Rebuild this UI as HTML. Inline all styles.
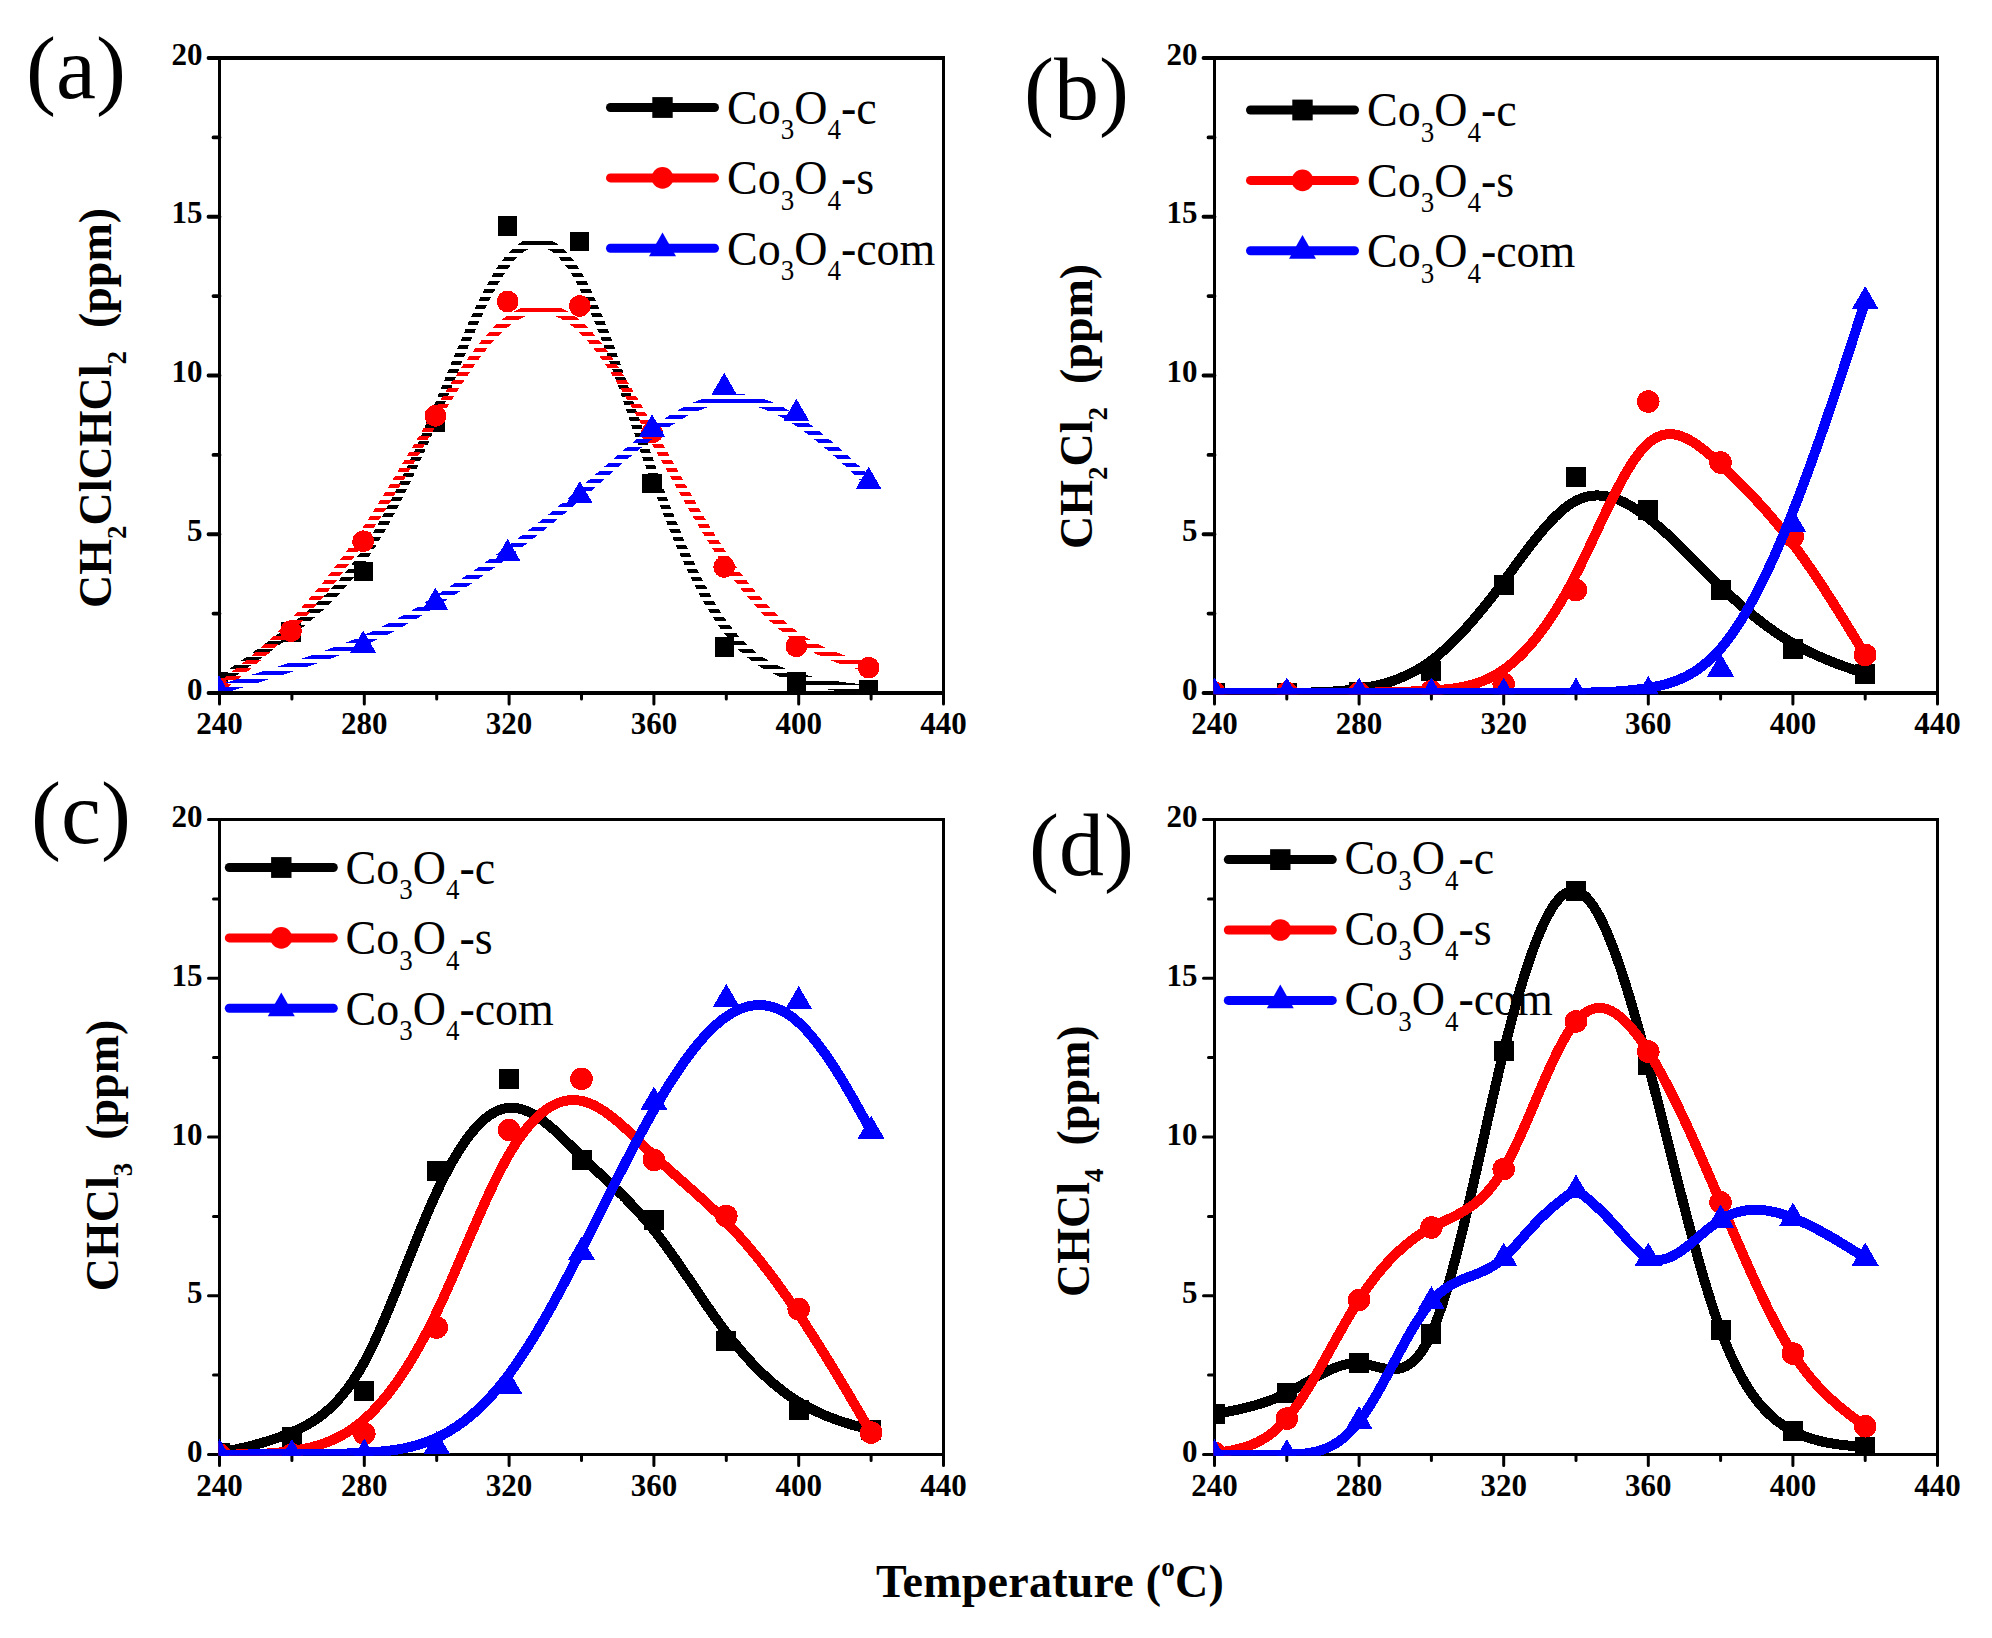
<!DOCTYPE html>
<html lang="en"><head><meta charset="utf-8"><title>Figure</title>
<style>html,body{margin:0;padding:0;background:#fff}svg{display:block}</style>
</head><body>
<svg width="1992" height="1638" viewBox="0 0 1992 1638" font-family="'Liberation Serif',serif" fill="#000">
<defs>
<pattern id="stripesk" x="0" y="1.0" width="16" height="8" patternUnits="userSpaceOnUse"><rect x="0" y="0" width="16" height="4.0" fill="#fff" shape-rendering="crispEdges"/></pattern>
<mask id="stripemaskk" maskUnits="userSpaceOnUse" x="0" y="0" width="1992" height="1638"><rect x="0" y="0" width="1992" height="1638" fill="url(#stripesk)"/></mask>
<pattern id="stripesr" x="0" y="4.0" width="16" height="8" patternUnits="userSpaceOnUse"><rect x="0" y="0" width="16" height="4.0" fill="#fff" shape-rendering="crispEdges"/></pattern>
<mask id="stripemaskr" maskUnits="userSpaceOnUse" x="0" y="0" width="1992" height="1638"><rect x="0" y="0" width="1992" height="1638" fill="url(#stripesr)"/></mask>
<pattern id="stripesb" x="0" y="7.0" width="16" height="8" patternUnits="userSpaceOnUse"><rect x="0" y="0" width="16" height="4.0" fill="#fff" shape-rendering="crispEdges"/></pattern>
<mask id="stripemaskb" maskUnits="userSpaceOnUse" x="0" y="0" width="1992" height="1638"><rect x="0" y="0" width="1992" height="1638" fill="url(#stripesb)"/></mask>
<clipPath id="clipa"><rect x="218" y="50" width="727" height="641.1"/></clipPath>
<clipPath id="clipb"><rect x="1213.3" y="56.5" width="725.7" height="637.7"/></clipPath>
<clipPath id="clipc"><rect x="218.3" y="818" width="726.7" height="637.7"/></clipPath>
<clipPath id="clipd"><rect x="1213.3" y="818" width="725.7" height="637.7"/></clipPath>
</defs>
<rect width="1992" height="1638" fill="#fff"/>
<g id="panel-a">
<path d="M218 58H945M218 693H945" stroke="#000" stroke-width="3.8" fill="none"/>
<path d="M219.5 58V693M943.5 58V693" stroke="#000" stroke-width="3.0" fill="none"/>
<path d="M219.5 693H208.5M219.5 613.62H213.5M219.5 534.25H208.5M219.5 454.88H213.5M219.5 375.5H208.5M219.5 296.12H213.5M219.5 216.75H208.5M219.5 137.38H213.5M219.5 58H208.5" stroke="#000" stroke-width="3.8" fill="none" stroke-linecap="round"/>
<path d="M219.5 693V704M291.9 693V699M364.3 693V704M436.7 693V699M509.1 693V704M581.5 693V699M653.9 693V704M726.3 693V699M798.7 693V704M871.1 693V699M943.5 693V704" stroke="#000" stroke-width="3.0" fill="none" stroke-linecap="round"/>
<g font-size="31" font-weight="bold">
<text x="219.5" y="733.5" text-anchor="middle">240</text>
<text x="364.3" y="733.5" text-anchor="middle">280</text>
<text x="509.1" y="733.5" text-anchor="middle">320</text>
<text x="653.9" y="733.5" text-anchor="middle">360</text>
<text x="798.7" y="733.5" text-anchor="middle">400</text>
<text x="943.5" y="733.5" text-anchor="middle">440</text>
<text x="202.5" y="699.5" text-anchor="end">0</text>
<text x="202.5" y="540.75" text-anchor="end">5</text>
<text x="202.5" y="382" text-anchor="end">10</text>
<text x="202.5" y="223.25" text-anchor="end">15</text>
<text x="202.5" y="64.5" text-anchor="end">20</text>
</g>
<text x="0" y="0" font-size="46" font-weight="bold" text-anchor="middle" transform="translate(111 408) rotate(-90)" xml:space="preserve"><tspan>CH</tspan><tspan font-size="27" dy="14.72">2</tspan><tspan dy="-14.72">ClCHCl</tspan><tspan font-size="27" dy="14.72">2</tspan><tspan dy="-14.72">  (ppm)</tspan></text>
<text transform="translate(26 98) scale(1 0.985)" font-size="90">(a)</text>
<g clip-path="url(#clipa)" shape-rendering="crispEdges">
<path d="M218.8 681.89L218.8 681.89L218.8 681.89L218.81 681.88L218.82 681.88L218.83 681.87L218.85 681.85L218.89 681.83L218.93 681.8L218.98 681.76L219.05 681.71L219.14 681.66L219.24 681.59L219.35 681.51L219.49 681.41L219.65 681.3L219.83 681.17L220.04 681.03L220.27 680.87L220.53 680.69L220.82 680.49L221.14 680.28L221.48 680.03L221.87 679.77L222.29 679.48L222.74 679.17L223.23 678.83L223.76 678.46L224.34 678.07L224.95 677.64L225.61 677.19L226.31 676.7L227.06 676.18L227.86 675.63L228.71 675.05L229.61 674.42L230.56 673.77L231.57 673.07L232.63 672.34L233.75 671.57L234.91 670.76L236.12 669.92L237.39 669.05L238.69 668.14L240.05 667.2L241.44 666.23L242.88 665.23L244.36 664.2L245.87 663.14L247.42 662.05L249.01 660.93L250.64 659.79L252.29 658.62L253.98 657.42L255.69 656.21L257.44 654.96L259.21 653.7L261 652.41L262.82 651.11L264.66 649.78L266.53 648.43L268.41 647.07L270.31 645.69L272.22 644.29L274.15 642.87L276.09 641.44L278.04 640L280 638.54L281.98 637.07L283.95 635.58L285.94 634.09L287.92 632.58L289.91 631.07L291.9 629.55L293.9 628.02L295.89 626.47L297.88 624.92L299.87 623.35L301.86 621.77L303.85 620.17L305.84 618.55L307.83 616.91L309.82 615.24L311.81 613.56L313.8 611.85L315.79 610.11L317.78 608.34L319.77 606.55L321.76 604.72L323.75 602.86L325.74 600.96L327.73 599.03L329.72 597.06L331.71 595.05L333.7 592.99L335.7 590.9L337.69 588.76L339.68 586.57L341.67 584.33L343.66 582.05L345.65 579.71L347.64 577.32L349.63 574.88L351.62 572.38L353.61 569.82L355.6 567.2L357.59 564.53L359.58 561.78L361.57 558.98L363.56 556.11L365.55 553.17L367.54 550.16L369.53 547.09L371.52 543.96L373.51 540.76L375.5 537.5L377.5 534.17L379.49 530.79L381.48 527.35L383.47 523.84L385.46 520.28L387.45 516.66L389.44 512.98L391.43 509.25L393.42 505.46L395.41 501.62L397.4 497.73L399.39 493.78L401.38 489.78L403.37 485.73L405.36 481.63L407.35 477.49L409.34 473.29L411.33 469.05L413.32 464.76L415.31 460.42L417.3 456.04L419.3 451.62L421.29 447.16L423.28 442.65L425.27 438.1L427.26 433.51L429.25 428.88L431.24 424.22L433.23 419.51L435.22 414.77L437.21 410L439.2 405.19L441.19 400.36L443.18 395.51L445.17 390.64L447.16 385.77L449.15 380.89L451.14 376.01L453.13 371.14L455.12 366.28L457.11 361.44L459.1 356.63L461.1 351.84L463.09 347.08L465.08 342.37L467.07 337.7L469.06 333.08L471.05 328.52L473.04 324.02L475.03 319.58L477.02 315.22L479.01 310.94L481 306.73L482.99 302.62L484.98 298.6L486.97 294.68L488.96 290.86L490.95 287.16L492.94 283.57L494.93 280.1L496.92 276.75L498.91 273.54L500.9 270.47L502.9 267.53L504.89 264.75L506.88 262.12L508.87 259.65L510.86 257.33L512.85 255.18L514.84 253.19L516.83 251.37L518.82 249.7L520.81 248.2L522.8 246.86L524.79 245.68L526.78 244.67L528.77 243.82L530.76 243.14L532.75 242.62L534.74 242.26L536.73 242.07L538.72 242.05L540.71 242.19L542.7 242.5L544.7 242.97L546.69 243.61L548.68 244.42L550.67 245.39L552.66 246.54L554.65 247.85L556.64 249.33L558.63 250.97L560.62 252.79L562.61 254.78L564.6 256.93L566.59 259.26L568.58 261.76L570.57 264.43L572.56 267.26L574.55 270.27L576.54 273.46L578.53 276.81L580.52 280.33L582.51 284.03L584.5 287.89L586.5 291.91L588.49 296.08L590.48 300.39L592.47 304.84L594.46 309.42L596.45 314.13L598.44 318.96L600.43 323.89L602.42 328.94L604.41 334.09L606.4 339.32L608.39 344.65L610.38 350.06L612.37 355.54L614.36 361.08L616.35 366.69L618.34 372.36L620.33 378.07L622.32 383.82L624.31 389.61L626.3 395.43L628.3 401.28L630.29 407.13L632.28 413L634.27 418.88L636.26 424.75L638.25 430.61L640.24 436.45L642.23 442.27L644.22 448.07L646.21 453.83L648.2 459.55L650.19 465.22L652.18 470.83L654.17 476.39L656.16 481.89L658.15 487.32L660.14 492.7L662.13 498L664.12 503.25L666.11 508.42L668.1 513.53L670.1 518.57L672.09 523.54L674.08 528.44L676.07 533.27L678.06 538.03L680.05 542.71L682.04 547.32L684.03 551.85L686.02 556.31L688.01 560.69L690 564.99L691.99 569.21L693.98 573.35L695.97 577.41L697.96 581.38L699.95 585.27L701.94 589.08L703.93 592.8L705.92 596.43L707.91 599.98L709.9 603.43L711.9 606.8L713.89 610.07L715.88 613.25L717.87 616.34L719.86 619.33L721.85 622.23L723.84 625.03L725.83 627.74L727.82 630.35L729.81 632.86L731.8 635.28L733.79 637.62L735.78 639.86L737.77 642.02L739.76 644.1L741.75 646.1L743.74 648.01L745.73 649.85L747.72 651.62L749.71 653.31L751.7 654.93L753.7 656.49L755.69 657.98L757.68 659.4L759.67 660.76L761.66 662.07L763.65 663.31L765.64 664.5L767.63 665.63L769.62 666.72L771.61 667.75L773.6 668.74L775.59 669.69L777.58 670.59L779.57 671.45L781.56 672.27L783.55 673.05L785.54 673.8L787.53 674.52L789.52 675.21L791.51 675.87L793.5 676.51L795.5 677.12L797.49 677.71L799.48 678.28L801.46 678.83L803.45 679.36L805.42 679.87L807.4 680.36L809.36 680.84L811.31 681.29L813.25 681.73L815.18 682.15L817.09 682.56L818.99 682.95L820.87 683.32L822.74 683.68L824.58 684.02L826.4 684.35L828.19 684.66L829.96 684.96L831.71 685.24L833.42 685.52L835.11 685.78L836.76 686.02L838.39 686.26L839.98 686.48L841.53 686.7L843.04 686.9L844.52 687.09L845.96 687.27L847.35 687.45L848.71 687.61L850.01 687.76L851.28 687.91L852.49 688.05L853.65 688.18L854.77 688.3L855.83 688.42L856.84 688.53L857.79 688.64L858.69 688.74L859.54 688.83L860.34 688.92L861.09 689L861.79 689.08L862.45 689.15L863.06 689.22L863.64 689.28L864.17 689.34L864.66 689.39L865.11 689.44L865.53 689.49L865.92 689.53L866.26 689.57L866.58 689.6L866.87 689.63L867.13 689.66L867.36 689.69L867.57 689.71L867.75 689.73L867.91 689.75L868.05 689.76L868.16 689.78L868.26 689.79L868.35 689.8L868.42 689.8L868.47 689.81L868.51 689.82L868.55 689.82L868.57 689.82L868.58 689.82L868.59 689.82L868.6 689.82L868.6 689.82L868.6 689.83" fill="none" stroke="#000000" stroke-width="9.55" stroke-linejoin="round" stroke-linecap="butt" mask="url(#stripemaskk)"/>
<rect x="209.25" y="672.34" width="19.1" height="19.1" fill="#000000"/>
<rect x="281.45" y="622.49" width="19.1" height="19.1" fill="#000000"/>
<rect x="353.65" y="561.85" width="19.1" height="19.1" fill="#000000"/>
<rect x="425.85" y="412.62" width="19.1" height="19.1" fill="#000000"/>
<rect x="498.05" y="216.41" width="19.1" height="19.1" fill="#000000"/>
<rect x="570.25" y="231.65" width="19.1" height="19.1" fill="#000000"/>
<rect x="642.45" y="473.9" width="19.1" height="19.1" fill="#000000"/>
<rect x="714.65" y="637.41" width="19.1" height="19.1" fill="#000000"/>
<rect x="786.85" y="672.34" width="19.1" height="19.1" fill="#000000"/>
<rect x="859.05" y="680.28" width="19.1" height="19.1" fill="#000000"/>
<path d="M218.8 688.24L218.8 688.24L218.8 688.24L218.81 688.23L218.82 688.22L218.83 688.21L218.85 688.19L218.89 688.17L218.93 688.14L218.98 688.09L219.05 688.04L219.14 687.97L219.24 687.89L219.35 687.8L219.49 687.69L219.65 687.56L219.83 687.42L220.04 687.26L220.27 687.07L220.53 686.87L220.82 686.64L221.14 686.39L221.48 686.11L221.87 685.81L222.29 685.48L222.74 685.12L223.23 684.73L223.76 684.31L224.34 683.86L224.95 683.37L225.61 682.85L226.31 682.29L227.06 681.7L227.86 681.07L228.71 680.39L229.61 679.68L230.56 678.93L231.57 678.13L232.63 677.29L233.75 676.4L234.91 675.48L236.12 674.51L237.39 673.5L238.69 672.46L240.05 671.37L241.44 670.24L242.88 669.07L244.36 667.87L245.87 666.62L247.42 665.34L249.01 664.03L250.64 662.67L252.29 661.28L253.98 659.86L255.69 658.4L257.44 656.9L259.21 655.38L261 653.81L262.82 652.22L264.66 650.59L266.53 648.93L268.41 647.24L270.31 645.52L272.22 643.77L274.15 641.99L276.09 640.18L278.04 638.34L280 636.48L281.98 634.58L283.95 632.66L285.94 630.71L287.92 628.74L289.91 626.74L291.9 624.71L293.9 622.66L295.89 620.59L297.88 618.49L299.87 616.36L301.86 614.21L303.85 612.04L305.84 609.84L307.83 607.61L309.82 605.36L311.81 603.08L313.8 600.78L315.79 598.45L317.78 596.1L319.77 593.72L321.76 591.32L323.75 588.89L325.74 586.43L327.73 583.95L329.72 581.44L331.71 578.9L333.7 576.34L335.7 573.76L337.69 571.14L339.68 568.51L341.67 565.84L343.66 563.15L345.65 560.43L347.64 557.69L349.63 554.91L351.62 552.12L353.61 549.29L355.6 546.44L357.59 543.56L359.58 540.66L361.57 537.73L363.56 534.77L365.55 531.78L367.54 528.77L369.53 525.74L371.52 522.68L373.51 519.59L375.5 516.49L377.5 513.36L379.49 510.21L381.48 507.05L383.47 503.87L385.46 500.67L387.45 497.45L389.44 494.22L391.43 490.97L393.42 487.71L395.41 484.44L397.4 481.16L399.39 477.87L401.38 474.57L403.37 471.26L405.36 467.94L407.35 464.62L409.34 461.29L411.33 457.96L413.32 454.62L415.31 451.28L417.3 447.94L419.3 444.6L421.29 441.26L423.28 437.92L425.27 434.58L427.26 431.25L429.25 427.92L431.24 424.6L433.23 421.28L435.22 417.98L437.21 414.67L439.2 411.38L441.19 408.11L443.18 404.84L445.17 401.6L447.16 398.37L449.15 395.17L451.14 391.99L453.13 388.84L455.12 385.71L457.11 382.62L459.1 379.56L461.1 376.53L463.09 373.54L465.08 370.59L467.07 367.69L469.06 364.83L471.05 362.01L473.04 359.24L475.03 356.53L477.02 353.87L479.01 351.26L481 348.71L482.99 346.22L484.98 343.8L486.97 341.44L488.96 339.14L490.95 336.91L492.94 334.76L494.93 332.68L496.92 330.68L498.91 328.75L500.9 326.9L502.9 325.14L504.89 323.46L506.88 321.87L508.87 320.37L510.86 318.96L512.85 317.63L514.84 316.4L516.83 315.26L518.82 314.21L520.81 313.25L522.8 312.39L524.79 311.61L526.78 310.92L528.77 310.33L530.76 309.82L532.75 309.41L534.74 309.09L536.73 308.85L538.72 308.72L540.71 308.67L542.7 308.71L544.7 308.84L546.69 309.07L548.68 309.39L550.67 309.8L552.66 310.3L554.65 310.89L556.64 311.58L558.63 312.36L560.62 313.23L562.61 314.19L564.6 315.24L566.59 316.39L568.58 317.63L570.57 318.96L572.56 320.38L574.55 321.9L576.54 323.51L578.53 325.21L580.52 327L582.51 328.89L584.5 330.87L586.5 332.93L588.49 335.08L590.48 337.31L592.47 339.62L594.46 342.01L596.45 344.47L598.44 347.01L600.43 349.62L602.42 352.29L604.41 355.03L606.4 357.84L608.39 360.7L610.38 363.62L612.37 366.6L614.36 369.64L616.35 372.72L618.34 375.85L620.33 379.03L622.32 382.25L624.31 385.52L626.3 388.82L628.3 392.16L630.29 395.54L632.28 398.95L634.27 402.38L636.26 405.85L638.25 409.33L640.24 412.85L642.23 416.38L644.22 419.93L646.21 423.49L648.2 427.07L650.19 430.65L652.18 434.25L654.17 437.85L656.16 441.45L658.15 445.06L660.14 448.67L662.13 452.28L664.12 455.89L666.11 459.5L668.1 463.1L670.1 466.7L672.09 470.29L674.08 473.88L676.07 477.45L678.06 481.02L680.05 484.58L682.04 488.12L684.03 491.65L686.02 495.16L688.01 498.66L690 502.14L691.99 505.6L693.98 509.03L695.97 512.45L697.96 515.85L699.95 519.21L701.94 522.56L703.93 525.87L705.92 529.16L707.91 532.42L709.9 535.65L711.9 538.84L713.89 542.01L715.88 545.13L717.87 548.22L719.86 551.27L721.85 554.29L723.84 557.26L725.83 560.19L727.82 563.08L729.81 565.93L731.8 568.74L733.79 571.5L735.78 574.23L737.77 576.91L739.76 579.54L741.75 582.14L743.74 584.69L745.73 587.21L747.72 589.67L749.71 592.1L751.7 594.48L753.7 596.82L755.69 599.12L757.68 601.38L759.67 603.59L761.66 605.76L763.65 607.89L765.64 609.97L767.63 612.01L769.62 614.01L771.61 615.96L773.6 617.87L775.59 619.74L777.58 621.56L779.57 623.34L781.56 625.08L783.55 626.77L785.54 628.42L787.53 630.03L789.52 631.59L791.51 633.11L793.5 634.58L795.5 636.01L797.49 637.39L799.48 638.74L801.46 640.03L803.45 641.29L805.42 642.51L807.4 643.68L809.36 644.81L811.31 645.91L813.25 646.97L815.18 647.99L817.09 648.97L818.99 649.92L820.87 650.83L822.74 651.7L824.58 652.55L826.4 653.36L828.19 654.14L829.96 654.88L831.71 655.6L833.42 656.29L835.11 656.94L836.76 657.57L838.39 658.17L839.98 658.75L841.53 659.3L843.04 659.82L844.52 660.32L845.96 660.79L847.35 661.25L848.71 661.68L850.01 662.09L851.28 662.47L852.49 662.84L853.65 663.19L854.77 663.52L855.83 663.84L856.84 664.13L857.79 664.41L858.69 664.68L859.54 664.93L860.34 665.17L861.09 665.39L861.79 665.59L862.45 665.79L863.06 665.97L863.64 666.14L864.17 666.29L864.66 666.44L865.11 666.57L865.53 666.7L865.92 666.81L866.26 666.91L866.58 667.01L866.87 667.09L867.13 667.17L867.36 667.24L867.57 667.3L867.75 667.35L867.91 667.4L868.05 667.44L868.16 667.47L868.26 667.5L868.35 667.53L868.42 667.55L868.47 667.56L868.51 667.57L868.55 667.58L868.57 667.59L868.58 667.6L868.59 667.6L868.6 667.6L868.6 667.6L868.6 667.6" fill="none" stroke="#ff0000" stroke-width="9.55" stroke-linejoin="round" stroke-linecap="butt" mask="url(#stripemaskr)"/>
<circle cx="218.8" cy="688.24" r="10.79" fill="#ff0000"/>
<circle cx="291" cy="631.09" r="10.79" fill="#ff0000"/>
<circle cx="363.2" cy="541.24" r="10.79" fill="#ff0000"/>
<circle cx="435.4" cy="415.82" r="10.79" fill="#ff0000"/>
<circle cx="507.6" cy="301.52" r="10.79" fill="#ff0000"/>
<circle cx="579.8" cy="305.97" r="10.79" fill="#ff0000"/>
<circle cx="652" cy="432.65" r="10.79" fill="#ff0000"/>
<circle cx="724.2" cy="566.95" r="10.79" fill="#ff0000"/>
<circle cx="796.4" cy="646.33" r="10.79" fill="#ff0000"/>
<circle cx="868.6" cy="667.6" r="10.79" fill="#ff0000"/>
<path d="M218.8 689.83L218.8 689.82L218.8 689.82L218.81 689.82L218.82 689.82L218.85 689.81L218.88 689.8L218.93 689.78L218.99 689.77L219.08 689.74L219.18 689.71L219.3 689.67L219.45 689.62L219.63 689.57L219.84 689.5L220.08 689.43L220.35 689.35L220.66 689.25L221.01 689.14L221.4 689.03L221.83 688.89L222.31 688.74L222.83 688.58L223.41 688.41L224.04 688.21L224.72 688L225.46 687.78L226.26 687.53L227.12 687.26L228.04 686.98L229.03 686.68L230.09 686.35L231.22 686L232.42 685.63L233.69 685.24L235.04 684.82L236.48 684.38L237.99 683.92L239.59 683.43L241.27 682.91L243.05 682.36L244.91 681.79L246.86 681.19L248.9 680.56L251.01 679.91L253.2 679.23L255.46 678.53L257.8 677.8L260.2 677.05L262.66 676.28L265.18 675.49L267.76 674.68L270.4 673.85L273.08 673L275.8 672.13L278.57 671.24L281.38 670.33L284.23 669.41L287.11 668.48L290.01 667.53L292.95 666.56L295.9 665.58L298.87 664.59L301.86 663.59L304.86 662.58L307.87 661.55L310.88 660.52L313.9 659.47L316.91 658.42L319.92 657.36L322.92 656.3L325.91 655.22L328.89 654.15L331.84 653.06L334.77 651.98L337.68 650.89L340.56 649.8L343.4 648.7L346.21 647.61L348.98 646.52L351.71 645.42L354.39 644.33L357.03 643.23L359.63 642.14L362.18 641.05L364.69 639.96L367.17 638.87L369.6 637.78L372 636.69L374.37 635.6L376.69 634.51L378.99 633.42L381.25 632.33L383.48 631.24L385.68 630.15L387.85 629.05L389.99 627.96L392.11 626.87L394.2 625.77L396.26 624.67L398.3 623.58L400.32 622.48L402.32 621.38L404.3 620.27L406.26 619.17L408.2 618.06L410.12 616.96L412.03 615.85L413.93 614.73L415.81 613.62L417.67 612.5L419.53 611.38L421.38 610.26L423.22 609.13L425.05 608L426.88 606.87L428.7 605.74L430.51 604.6L432.32 603.46L434.13 602.31L435.94 601.16L437.75 600.01L439.56 598.85L441.37 597.69L443.18 596.53L444.99 595.36L446.8 594.19L448.61 593.01L450.42 591.83L452.23 590.64L454.04 589.45L455.85 588.26L457.66 587.06L459.47 585.86L461.28 584.65L463.09 583.44L464.9 582.23L466.7 581.01L468.51 579.78L470.32 578.56L472.13 577.32L473.94 576.08L475.75 574.84L477.56 573.59L479.37 572.34L481.18 571.08L482.99 569.82L484.8 568.55L486.61 567.28L488.42 566L490.23 564.72L492.04 563.43L493.85 562.14L495.66 560.84L497.47 559.54L499.28 558.23L501.09 556.91L502.9 555.59L504.7 554.27L506.51 552.94L508.32 551.6L510.13 550.26L511.94 548.91L513.75 547.56L515.56 546.2L517.37 544.84L519.18 543.47L520.99 542.09L522.8 540.71L524.61 539.32L526.42 537.93L528.23 536.53L530.04 535.13L531.85 533.72L533.66 532.31L535.47 530.89L537.28 529.46L539.09 528.03L540.9 526.59L542.7 525.15L544.51 523.7L546.32 522.25L548.13 520.79L549.94 519.32L551.75 517.85L553.56 516.38L555.37 514.9L557.18 513.41L558.99 511.92L560.8 510.42L562.61 508.92L564.42 507.41L566.23 505.89L568.04 504.37L569.85 502.84L571.66 501.31L573.47 499.78L575.28 498.23L577.09 496.68L578.9 495.13L580.7 493.57L582.51 492.01L584.32 490.44L586.13 488.86L587.94 487.28L589.75 485.7L591.56 484.12L593.37 482.53L595.18 480.95L596.99 479.36L598.8 477.77L600.61 476.18L602.42 474.59L604.23 473.01L606.04 471.42L607.85 469.84L609.66 468.26L611.47 466.68L613.28 465.11L615.09 463.54L616.9 461.97L618.7 460.41L620.51 458.86L622.32 457.31L624.13 455.77L625.94 454.24L627.75 452.72L629.56 451.2L631.37 449.7L633.18 448.2L634.99 446.71L636.8 445.24L638.61 443.77L640.42 442.32L642.23 440.88L644.04 439.45L645.85 438.04L647.66 436.64L649.47 435.25L651.28 433.88L653.09 432.53L654.9 431.19L656.7 429.87L658.51 428.56L660.32 427.27L662.13 426.01L663.94 424.76L665.75 423.53L667.56 422.32L669.37 421.14L671.18 419.97L672.99 418.83L674.8 417.72L676.61 416.62L678.42 415.56L680.23 414.51L682.04 413.5L683.85 412.51L685.66 411.55L687.47 410.61L689.28 409.71L691.09 408.83L692.9 407.99L694.7 407.17L696.51 406.39L698.32 405.64L700.13 404.92L701.94 404.24L703.75 403.59L705.56 402.98L707.37 402.4L709.18 401.85L710.99 401.35L712.8 400.88L714.61 400.45L716.42 400.06L718.23 399.71L720.04 399.4L721.85 399.13L723.66 398.9L725.47 398.71L727.28 398.57L729.09 398.46L730.9 398.4L732.7 398.38L734.51 398.4L736.32 398.46L738.13 398.56L739.94 398.7L741.75 398.88L743.56 399.1L745.37 399.35L747.18 399.65L748.99 399.98L750.8 400.35L752.61 400.75L754.42 401.19L756.23 401.67L758.04 402.18L759.85 402.72L761.66 403.3L763.47 403.92L765.28 404.57L767.09 405.25L768.9 405.96L770.7 406.71L772.51 407.49L774.32 408.3L776.13 409.14L777.94 410.01L779.75 410.92L781.56 411.85L783.37 412.81L785.18 413.81L786.99 414.83L788.8 415.88L790.61 416.95L792.42 418.06L794.23 419.19L796.04 420.35L797.85 421.54L799.66 422.75L801.46 423.98L803.27 425.23L805.06 426.51L806.86 427.8L808.65 429.11L810.42 430.44L812.19 431.77L813.96 433.12L815.7 434.48L817.44 435.84L819.16 437.21L820.87 438.59L822.57 439.96L824.24 441.34L825.9 442.72L827.54 444.09L829.16 445.46L830.76 446.83L832.33 448.18L833.88 449.53L835.41 450.86L836.91 452.18L838.39 453.49L839.83 454.78L841.25 456.05L842.63 457.3L843.99 458.53L845.31 459.74L846.6 460.92L847.85 462.08L849.07 463.2L850.25 464.3L851.39 465.36L852.49 466.39L853.55 467.38L854.57 468.34L855.54 469.26L856.48 470.14L857.36 470.97L858.21 471.76L859 472.51L859.76 473.23L860.48 473.9L861.15 474.54L861.79 475.14L862.39 475.7L862.96 476.23L863.49 476.73L863.98 477.2L864.44 477.63L864.87 478.04L865.27 478.41L865.64 478.76L865.98 479.08L866.3 479.38L866.58 479.65L866.85 479.89L867.08 480.12L867.3 480.32L867.5 480.51L867.67 480.67L867.82 480.81L867.96 480.94L868.08 481.06L868.18 481.15L868.27 481.24L868.35 481.31L868.41 481.37L868.46 481.42L868.5 481.45L868.54 481.48L868.56 481.51L868.58 481.52L868.59 481.53L868.59 481.54L868.6 481.54L868.6 481.54L868.6 481.55" fill="none" stroke="#0000ff" stroke-width="9.55" stroke-linejoin="round" stroke-linecap="butt" mask="url(#stripemaskb)"/>
<polygon points="218.8,675.05 231.69,697.21 205.91,697.21" fill="#0000ff"/>
<polygon points="363.2,630.6 376.09,652.76 350.31,652.76" fill="#0000ff"/>
<polygon points="435.4,587.74 448.29,609.9 422.51,609.9" fill="#0000ff"/>
<polygon points="507.6,538.85 520.49,561 494.71,561" fill="#0000ff"/>
<polygon points="579.8,481.06 592.69,503.22 566.91,503.22" fill="#0000ff"/>
<polygon points="652,414.39 664.89,436.54 639.11,436.54" fill="#0000ff"/>
<polygon points="724.2,372.79 737.09,394.95 711.31,394.95" fill="#0000ff"/>
<polygon points="796.4,398.83 809.29,420.99 783.51,420.99" fill="#0000ff"/>
<polygon points="868.6,466.77 881.49,488.93 855.71,488.93" fill="#0000ff"/>
</g>
<line x1="610.5" y1="107.5" x2="714.5" y2="107.5" stroke="#000000" stroke-width="9" stroke-linecap="round"/>
<rect x="652.3" y="97.1" width="20.4" height="20.8" fill="#000000"/>
<text x="0" y="0" font-size="46" font-weight="normal" text-anchor="start" transform="translate(727 123.7) scale(1 1.055)" xml:space="preserve"><tspan>Co</tspan><tspan font-size="27" dy="14.72">3</tspan><tspan dy="-14.72">O</tspan><tspan font-size="27" dy="14.72">4</tspan><tspan dy="-14.72">-c</tspan></text>
<line x1="610.5" y1="177.9" x2="714.5" y2="177.9" stroke="#ff0000" stroke-width="9" stroke-linecap="round"/>
<circle cx="662.5" cy="177.9" r="10.8" fill="#ff0000"/>
<text x="0" y="0" font-size="46" font-weight="normal" text-anchor="start" transform="translate(727 194.1) scale(1 1.055)" xml:space="preserve"><tspan>Co</tspan><tspan font-size="27" dy="14.72">3</tspan><tspan dy="-14.72">O</tspan><tspan font-size="27" dy="14.72">4</tspan><tspan dy="-14.72">-s</tspan></text>
<line x1="610.5" y1="248.3" x2="714.5" y2="248.3" stroke="#0000ff" stroke-width="9" stroke-linecap="round"/>
<polygon points="662.5,232.43 676,256.23 649,256.23" fill="#0000ff"/>
<text x="0" y="0" font-size="46" font-weight="normal" text-anchor="start" transform="translate(727 264.5) scale(1 1.055)" xml:space="preserve"><tspan>Co</tspan><tspan font-size="27" dy="14.72">3</tspan><tspan dy="-14.72">O</tspan><tspan font-size="27" dy="14.72">4</tspan><tspan dy="-14.72">-com</tspan></text>
</g>
<g id="panel-b">
<path d="M1213 58H1939M1213 693H1939" stroke="#000" stroke-width="3.8" fill="none"/>
<path d="M1214.5 58V693M1937.5 58V693" stroke="#000" stroke-width="3.0" fill="none"/>
<path d="M1214.5 693H1203.5M1214.5 613.62H1208.5M1214.5 534.25H1203.5M1214.5 454.88H1208.5M1214.5 375.5H1203.5M1214.5 296.12H1208.5M1214.5 216.75H1203.5M1214.5 137.38H1208.5M1214.5 58H1203.5" stroke="#000" stroke-width="3.8" fill="none" stroke-linecap="round"/>
<path d="M1214.5 693V704M1286.8 693V699M1359.1 693V704M1431.4 693V699M1503.7 693V704M1576 693V699M1648.3 693V704M1720.6 693V699M1792.9 693V704M1865.2 693V699M1937.5 693V704" stroke="#000" stroke-width="3.0" fill="none" stroke-linecap="round"/>
<g font-size="31" font-weight="bold">
<text x="1214.5" y="733.5" text-anchor="middle">240</text>
<text x="1359.1" y="733.5" text-anchor="middle">280</text>
<text x="1503.7" y="733.5" text-anchor="middle">320</text>
<text x="1648.3" y="733.5" text-anchor="middle">360</text>
<text x="1792.9" y="733.5" text-anchor="middle">400</text>
<text x="1937.5" y="733.5" text-anchor="middle">440</text>
<text x="1197.5" y="699.5" text-anchor="end">0</text>
<text x="1197.5" y="540.75" text-anchor="end">5</text>
<text x="1197.5" y="382" text-anchor="end">10</text>
<text x="1197.5" y="223.25" text-anchor="end">15</text>
<text x="1197.5" y="64.5" text-anchor="end">20</text>
</g>
<text x="0" y="0" font-size="46" font-weight="bold" text-anchor="middle" transform="translate(1092 406.4) rotate(-90)" xml:space="preserve"><tspan>CH</tspan><tspan font-size="27" dy="14.72">2</tspan><tspan dy="-14.72">Cl</tspan><tspan font-size="27" dy="14.72">2</tspan><tspan dy="-14.72">  (ppm)</tspan></text>
<text transform="translate(1024 119) scale(1 0.985)" font-size="90">(b)</text>
<g clip-path="url(#clipb)" shape-rendering="crispEdges">
<path d="M1214.5 693L1214.5 693L1214.5 693L1214.51 693L1214.52 693L1214.53 693L1214.55 693L1214.59 693L1214.63 693L1214.68 693L1214.75 693L1214.84 693L1214.94 693L1215.05 693L1215.19 693L1215.35 693L1215.53 693L1215.74 693L1215.97 693L1216.23 693L1216.52 693L1216.84 693L1217.19 693L1217.57 693L1217.99 693L1218.45 693L1218.94 693L1219.47 693L1220.04 693L1220.66 693L1221.32 693L1222.02 693L1222.77 693L1223.57 693L1224.42 693L1225.33 693L1226.28 693L1227.29 693L1228.35 693L1229.47 693L1230.63 693L1231.85 693L1233.11 693L1234.42 693L1235.78 693L1237.17 693L1238.61 693L1240.09 693L1241.61 692.99L1243.16 692.99L1244.76 692.99L1246.38 692.99L1248.04 692.99L1249.73 692.98L1251.45 692.98L1253.19 692.98L1254.96 692.97L1256.76 692.97L1258.58 692.97L1260.43 692.96L1262.29 692.96L1264.18 692.95L1266.08 692.94L1267.99 692.94L1269.92 692.93L1271.87 692.92L1273.82 692.91L1275.79 692.9L1277.76 692.89L1279.74 692.88L1281.73 692.87L1283.72 692.86L1285.71 692.85L1287.71 692.84L1289.7 692.82L1291.69 692.81L1293.69 692.79L1295.68 692.77L1297.67 692.75L1299.67 692.72L1301.66 692.7L1303.65 692.66L1305.65 692.63L1307.64 692.59L1309.63 692.55L1311.62 692.5L1313.62 692.44L1315.61 692.38L1317.6 692.31L1319.6 692.24L1321.59 692.15L1323.58 692.06L1325.58 691.97L1327.57 691.86L1329.56 691.75L1331.56 691.62L1333.55 691.49L1335.54 691.35L1337.54 691.19L1339.53 691.03L1341.52 690.85L1343.52 690.67L1345.51 690.47L1347.5 690.26L1349.5 690.03L1351.49 689.8L1353.48 689.55L1355.48 689.28L1357.47 689.01L1359.46 688.71L1361.46 688.4L1363.45 688.08L1365.44 687.74L1367.44 687.38L1369.43 687L1371.42 686.6L1373.42 686.18L1375.41 685.74L1377.4 685.28L1379.39 684.79L1381.39 684.28L1383.38 683.74L1385.37 683.18L1387.37 682.58L1389.36 681.96L1391.35 681.31L1393.35 680.63L1395.34 679.92L1397.33 679.17L1399.33 678.39L1401.32 677.58L1403.31 676.73L1405.31 675.84L1407.3 674.92L1409.29 673.96L1411.29 672.96L1413.28 671.92L1415.27 670.84L1417.27 669.72L1419.26 668.55L1421.25 667.34L1423.25 666.08L1425.24 664.78L1427.23 663.43L1429.23 662.04L1431.22 660.59L1433.21 659.09L1435.21 657.55L1437.2 655.96L1439.19 654.32L1441.18 652.63L1443.18 650.9L1445.17 649.12L1447.16 647.31L1449.16 645.44L1451.15 643.54L1453.14 641.6L1455.14 639.61L1457.13 637.59L1459.12 635.53L1461.12 633.43L1463.11 631.3L1465.1 629.13L1467.1 626.92L1469.09 624.69L1471.08 622.42L1473.08 620.12L1475.07 617.79L1477.06 615.43L1479.06 613.04L1481.05 610.62L1483.04 608.18L1485.04 605.71L1487.03 603.21L1489.02 600.7L1491.02 598.15L1493.01 595.59L1495 593.01L1497 590.4L1498.99 587.78L1500.98 585.14L1502.98 582.48L1504.97 579.8L1506.96 577.11L1508.95 574.41L1510.95 571.7L1512.94 568.99L1514.93 566.28L1516.93 563.57L1518.92 560.86L1520.91 558.17L1522.91 555.49L1524.9 552.83L1526.89 550.18L1528.89 547.56L1530.88 544.97L1532.87 542.4L1534.87 539.87L1536.86 537.38L1538.85 534.93L1540.85 532.51L1542.84 530.15L1544.83 527.84L1546.83 525.58L1548.82 523.38L1550.81 521.24L1552.81 519.16L1554.8 517.15L1556.79 515.21L1558.79 513.34L1560.78 511.55L1562.77 509.84L1564.77 508.22L1566.76 506.69L1568.75 505.24L1570.75 503.89L1572.74 502.64L1574.73 501.49L1576.72 500.44L1578.72 499.5L1580.71 498.66L1582.7 497.92L1584.7 497.29L1586.69 496.75L1588.68 496.31L1590.68 495.96L1592.67 495.71L1594.66 495.54L1596.66 495.47L1598.65 495.48L1600.64 495.57L1602.64 495.75L1604.63 496.01L1606.62 496.35L1608.62 496.76L1610.61 497.25L1612.6 497.81L1614.6 498.44L1616.59 499.15L1618.58 499.91L1620.58 500.75L1622.57 501.64L1624.56 502.6L1626.56 503.62L1628.55 504.69L1630.54 505.82L1632.54 507L1634.53 508.24L1636.52 509.52L1638.52 510.85L1640.51 512.23L1642.5 513.64L1644.49 515.11L1646.49 516.61L1648.48 518.15L1650.47 519.72L1652.47 521.33L1654.46 522.97L1656.45 524.65L1658.45 526.35L1660.44 528.08L1662.43 529.84L1664.43 531.63L1666.42 533.43L1668.41 535.27L1670.41 537.12L1672.4 538.99L1674.39 540.89L1676.39 542.8L1678.38 544.72L1680.37 546.66L1682.37 548.61L1684.36 550.58L1686.35 552.55L1688.35 554.53L1690.34 556.52L1692.33 558.52L1694.33 560.52L1696.32 562.52L1698.31 564.52L1700.31 566.53L1702.3 568.53L1704.29 570.53L1706.28 572.52L1708.28 574.51L1710.27 576.49L1712.26 578.46L1714.26 580.43L1716.25 582.38L1718.24 584.31L1720.24 586.24L1722.23 588.14L1724.22 590.03L1726.22 591.91L1728.21 593.77L1730.2 595.61L1732.2 597.43L1734.19 599.23L1736.18 601.02L1738.18 602.79L1740.17 604.54L1742.16 606.27L1744.16 607.99L1746.15 609.68L1748.14 611.35L1750.14 613.01L1752.13 614.64L1754.12 616.25L1756.12 617.85L1758.11 619.42L1760.1 620.97L1762.1 622.5L1764.09 624L1766.08 625.49L1768.08 626.95L1770.07 628.39L1772.06 629.81L1774.05 631.21L1776.05 632.58L1778.04 633.93L1780.03 635.25L1782.03 636.55L1784.02 637.83L1786.01 639.08L1788.01 640.3L1790 641.5L1791.99 642.68L1793.99 643.83L1795.98 644.95L1797.97 646.05L1799.96 647.13L1801.94 648.17L1803.91 649.2L1805.88 650.2L1807.83 651.17L1809.78 652.12L1811.71 653.04L1813.62 653.95L1815.52 654.82L1817.41 655.68L1819.27 656.51L1821.12 657.32L1822.94 658.1L1824.74 658.86L1826.51 659.6L1828.25 660.32L1829.97 661.01L1831.66 661.68L1833.32 662.33L1834.94 662.96L1836.54 663.57L1838.09 664.16L1839.61 664.72L1841.09 665.26L1842.53 665.79L1843.92 666.29L1845.28 666.77L1846.59 667.24L1847.85 667.68L1849.07 668.1L1850.23 668.5L1851.35 668.89L1852.41 669.25L1853.42 669.6L1854.37 669.92L1855.28 670.23L1856.13 670.52L1856.93 670.8L1857.68 671.06L1858.38 671.3L1859.04 671.52L1859.66 671.73L1860.23 671.93L1860.76 672.11L1861.25 672.28L1861.71 672.44L1862.13 672.58L1862.51 672.71L1862.86 672.83L1863.18 672.94L1863.47 673.04L1863.73 673.13L1863.96 673.21L1864.17 673.28L1864.35 673.34L1864.51 673.4L1864.65 673.44L1864.76 673.48L1864.86 673.52L1864.95 673.55L1865.02 673.57L1865.07 673.59L1865.11 673.6L1865.15 673.61L1865.17 673.62L1865.18 673.63L1865.19 673.63L1865.2 673.63L1865.2 673.63L1865.2 673.63" fill="none" stroke="#000000" stroke-width="10" stroke-linejoin="round" stroke-linecap="butt"/>
<rect x="1204.5" y="683" width="20" height="20" fill="#000000"/>
<rect x="1276.8" y="683" width="20" height="20" fill="#000000"/>
<rect x="1349.1" y="682.05" width="20" height="20" fill="#000000"/>
<rect x="1421.4" y="661.41" width="20" height="20" fill="#000000"/>
<rect x="1493.7" y="575.05" width="20" height="20" fill="#000000"/>
<rect x="1566" y="467.42" width="20" height="20" fill="#000000"/>
<rect x="1638.3" y="500.12" width="20" height="20" fill="#000000"/>
<rect x="1710.6" y="580.13" width="20" height="20" fill="#000000"/>
<rect x="1782.9" y="638.87" width="20" height="20" fill="#000000"/>
<rect x="1855.2" y="663.63" width="20" height="20" fill="#000000"/>
<path d="M1214.5 693L1214.5 693L1214.5 693L1214.51 693L1214.52 693L1214.53 693L1214.55 693L1214.59 693L1214.63 693L1214.68 693L1214.75 693L1214.84 693L1214.94 693L1215.05 693L1215.19 693L1215.35 693L1215.53 693L1215.74 693L1215.97 693L1216.23 693L1216.52 693L1216.84 693L1217.19 693L1217.57 693L1217.99 693L1218.45 693L1218.94 693L1219.47 693L1220.04 693L1220.66 693L1221.32 693L1222.02 693L1222.77 693L1223.57 693L1224.42 693L1225.33 693L1226.28 693L1227.29 693L1228.35 693L1229.47 693L1230.63 693L1231.85 693L1233.11 693L1234.42 693L1235.78 693L1237.17 693L1238.61 693L1240.09 693L1241.61 693L1243.16 693L1244.76 693L1246.38 693L1248.04 693L1249.73 693L1251.45 693L1253.19 693L1254.96 693L1256.76 693L1258.58 693L1260.43 693L1262.29 693L1264.18 693L1266.08 693L1267.99 693L1269.92 693L1271.87 693L1273.82 693L1275.79 693L1277.76 693L1279.74 693L1281.73 693L1283.72 693L1285.71 693L1287.71 693L1289.7 693L1291.69 693L1293.69 693L1295.68 693L1297.67 693L1299.67 693L1301.66 693L1303.65 693L1305.65 693L1307.64 692.99L1309.63 692.99L1311.62 692.99L1313.62 692.99L1315.61 692.98L1317.6 692.98L1319.6 692.98L1321.59 692.97L1323.58 692.97L1325.58 692.96L1327.57 692.95L1329.56 692.95L1331.56 692.94L1333.55 692.93L1335.54 692.92L1337.54 692.91L1339.53 692.9L1341.52 692.89L1343.52 692.87L1345.51 692.86L1347.5 692.84L1349.5 692.83L1351.49 692.81L1353.48 692.79L1355.48 692.77L1357.47 692.75L1359.46 692.73L1361.46 692.71L1363.45 692.68L1365.44 692.66L1367.44 692.63L1369.43 692.6L1371.42 692.57L1373.42 692.54L1375.41 692.51L1377.4 692.47L1379.39 692.43L1381.39 692.4L1383.38 692.35L1385.37 692.31L1387.37 692.26L1389.36 692.21L1391.35 692.16L1393.35 692.11L1395.34 692.05L1397.33 691.99L1399.33 691.93L1401.32 691.86L1403.31 691.8L1405.31 691.72L1407.3 691.65L1409.29 691.57L1411.29 691.49L1413.28 691.41L1415.27 691.32L1417.27 691.22L1419.26 691.13L1421.25 691.03L1423.25 690.93L1425.24 690.82L1427.23 690.71L1429.23 690.59L1431.22 690.47L1433.21 690.35L1435.21 690.22L1437.2 690.08L1439.19 689.93L1441.18 689.77L1443.18 689.6L1445.17 689.42L1447.16 689.22L1449.16 689L1451.15 688.76L1453.14 688.5L1455.14 688.22L1457.13 687.91L1459.12 687.57L1461.12 687.21L1463.11 686.82L1465.1 686.4L1467.1 685.94L1469.09 685.45L1471.08 684.93L1473.08 684.36L1475.07 683.76L1477.06 683.11L1479.06 682.42L1481.05 681.69L1483.04 680.91L1485.04 680.08L1487.03 679.2L1489.02 678.27L1491.02 677.29L1493.01 676.25L1495 675.15L1497 674L1498.99 672.78L1500.98 671.51L1502.98 670.17L1504.97 668.76L1506.96 667.29L1508.95 665.75L1510.95 664.15L1512.94 662.48L1514.93 660.74L1516.93 658.94L1518.92 657.07L1520.91 655.13L1522.91 653.13L1524.9 651.05L1526.89 648.91L1528.89 646.71L1530.88 644.43L1532.87 642.09L1534.87 639.67L1536.86 637.19L1538.85 634.64L1540.85 632.03L1542.84 629.34L1544.83 626.58L1546.83 623.76L1548.82 620.86L1550.81 617.9L1552.81 614.86L1554.8 611.76L1556.79 608.58L1558.79 605.34L1560.78 602.02L1562.77 598.63L1564.77 595.18L1566.76 591.65L1568.75 588.05L1570.75 584.38L1572.74 580.64L1574.73 576.83L1576.72 572.94L1578.72 568.99L1580.71 564.97L1582.7 560.9L1584.7 556.78L1586.69 552.62L1588.68 548.43L1590.68 544.21L1592.67 539.97L1594.66 535.72L1596.66 531.47L1598.65 527.22L1600.64 522.98L1602.64 518.75L1604.63 514.56L1606.62 510.39L1608.62 506.26L1610.61 502.18L1612.6 498.15L1614.6 494.18L1616.59 490.28L1618.58 486.46L1620.58 482.71L1622.57 479.06L1624.56 475.5L1626.56 472.05L1628.55 468.7L1630.54 465.48L1632.54 462.38L1634.53 459.41L1636.52 456.59L1638.52 453.91L1640.51 451.38L1642.5 449.02L1644.49 446.82L1646.49 444.8L1648.48 442.97L1650.47 441.32L1652.47 439.86L1654.46 438.57L1656.45 437.46L1658.45 436.52L1660.44 435.74L1662.43 435.13L1664.43 434.66L1666.42 434.35L1668.41 434.18L1670.41 434.15L1672.4 434.26L1674.39 434.49L1676.39 434.86L1678.38 435.34L1680.37 435.93L1682.37 436.64L1684.36 437.45L1686.35 438.36L1688.35 439.36L1690.34 440.46L1692.33 441.64L1694.33 442.9L1696.32 444.23L1698.31 445.64L1700.31 447.11L1702.3 448.64L1704.29 450.23L1706.28 451.87L1708.28 453.55L1710.27 455.27L1712.26 457.03L1714.26 458.82L1716.25 460.64L1718.24 462.47L1720.24 464.33L1722.23 466.19L1724.22 468.06L1726.22 469.95L1728.21 471.84L1730.2 473.75L1732.2 475.68L1734.19 477.61L1736.18 479.56L1738.18 481.53L1740.17 483.51L1742.16 485.5L1744.16 487.52L1746.15 489.55L1748.14 491.6L1750.14 493.67L1752.13 495.76L1754.12 497.87L1756.12 500L1758.11 502.15L1760.1 504.32L1762.1 506.52L1764.09 508.74L1766.08 510.99L1768.08 513.26L1770.07 515.55L1772.06 517.87L1774.05 520.22L1776.05 522.6L1778.04 525L1780.03 527.44L1782.03 529.9L1784.02 532.39L1786.01 534.92L1788.01 537.47L1790 540.06L1791.99 542.68L1793.99 545.33L1795.98 548.02L1797.97 550.73L1799.96 553.47L1801.94 556.23L1803.91 559.01L1805.88 561.8L1807.83 564.61L1809.78 567.42L1811.71 570.24L1813.62 573.06L1815.52 575.88L1817.41 578.69L1819.27 581.49L1821.12 584.28L1822.94 587.06L1824.74 589.81L1826.51 592.54L1828.25 595.25L1829.97 597.93L1831.66 600.57L1833.32 603.18L1834.94 605.74L1836.54 608.27L1838.09 610.75L1839.61 613.17L1841.09 615.55L1842.53 617.87L1843.92 620.12L1845.28 622.32L1846.59 624.44L1847.85 626.5L1849.07 628.48L1850.23 630.39L1851.35 632.21L1852.41 633.95L1853.42 635.6L1854.37 637.17L1855.28 638.64L1856.13 640.04L1856.93 641.35L1857.68 642.58L1858.38 643.73L1859.04 644.81L1859.66 645.82L1860.23 646.76L1860.76 647.63L1861.25 648.44L1861.71 649.18L1862.13 649.87L1862.51 650.5L1862.86 651.07L1863.18 651.59L1863.47 652.06L1863.73 652.49L1863.96 652.87L1864.17 653.21L1864.35 653.5L1864.51 653.77L1864.65 653.99L1864.76 654.19L1864.86 654.35L1864.95 654.49L1865.02 654.6L1865.07 654.69L1865.11 654.76L1865.15 654.81L1865.17 654.85L1865.18 654.87L1865.19 654.89L1865.2 654.9L1865.2 654.9L1865.2 654.9" fill="none" stroke="#ff0000" stroke-width="10" stroke-linejoin="round" stroke-linecap="butt"/>
<circle cx="1214.5" cy="693" r="11.3" fill="#ff0000"/>
<circle cx="1286.8" cy="693" r="11.3" fill="#ff0000"/>
<circle cx="1359.1" cy="693" r="11.3" fill="#ff0000"/>
<circle cx="1431.4" cy="691.41" r="11.3" fill="#ff0000"/>
<circle cx="1503.7" cy="684.11" r="11.3" fill="#ff0000"/>
<circle cx="1576" cy="590.13" r="11.3" fill="#ff0000"/>
<circle cx="1648.3" cy="401.54" r="11.3" fill="#ff0000"/>
<circle cx="1720.6" cy="462.5" r="11.3" fill="#ff0000"/>
<circle cx="1792.9" cy="536.47" r="11.3" fill="#ff0000"/>
<circle cx="1865.2" cy="654.9" r="11.3" fill="#ff0000"/>
<path d="M1214.5 693L1214.5 693L1214.5 693L1214.51 693L1214.52 693L1214.53 693L1214.55 693L1214.59 693L1214.63 693L1214.68 693L1214.75 693L1214.84 693L1214.94 693L1215.05 693L1215.19 693L1215.35 693L1215.53 693L1215.74 693L1215.97 693L1216.23 693L1216.52 693L1216.84 693L1217.19 693L1217.57 693L1217.99 693L1218.45 693L1218.94 693L1219.47 693L1220.04 693L1220.66 693L1221.32 693L1222.02 693L1222.77 693L1223.57 693L1224.42 693L1225.33 693L1226.28 693L1227.29 693L1228.35 693L1229.47 693L1230.63 693L1231.85 693L1233.11 693L1234.42 693L1235.78 693L1237.17 693L1238.61 693L1240.09 693L1241.61 693L1243.16 693L1244.76 693L1246.38 693L1248.04 693L1249.73 693L1251.45 693L1253.19 693L1254.96 693L1256.76 693L1258.58 693L1260.43 693L1262.29 693L1264.18 693L1266.08 693L1267.99 693L1269.92 693L1271.87 693L1273.82 693L1275.79 693L1277.76 693L1279.74 693L1281.73 693L1283.72 693L1285.71 693L1287.71 693L1289.7 693L1291.69 693L1293.69 693L1295.68 693L1297.67 693L1299.67 693L1301.66 693L1303.65 693L1305.65 693L1307.64 693L1309.63 693L1311.62 693L1313.62 693L1315.61 693L1317.6 693L1319.6 693L1321.59 693L1323.58 693L1325.58 693L1327.57 693L1329.56 693L1331.56 693L1333.55 693L1335.54 693L1337.54 693L1339.53 693L1341.52 693L1343.52 693L1345.51 693L1347.5 693L1349.5 693L1351.49 693L1353.48 693L1355.48 693L1357.47 693L1359.46 693L1361.46 693L1363.45 693L1365.44 693L1367.44 693L1369.43 693L1371.42 693L1373.42 693L1375.41 693L1377.4 693L1379.39 693L1381.39 693L1383.38 693L1385.37 693L1387.37 693L1389.36 693L1391.35 693L1393.35 693L1395.34 693L1397.33 693L1399.33 693L1401.32 693L1403.31 693L1405.31 693L1407.3 693L1409.29 693L1411.29 693L1413.28 693L1415.27 693L1417.27 693L1419.26 693L1421.25 693L1423.25 693L1425.24 693L1427.23 693L1429.23 693L1431.22 693L1433.21 693L1435.21 693L1437.2 693L1439.19 693L1441.18 693L1443.18 693L1445.17 693L1447.16 693L1449.16 693L1451.15 693L1453.14 693L1455.14 693L1457.13 693L1459.12 693L1461.12 693L1463.11 693L1465.1 693L1467.1 693L1469.09 693L1471.08 693L1473.08 693L1475.07 693L1477.06 693L1479.06 693L1481.05 693L1483.04 693L1485.04 693L1487.03 693L1489.02 693L1491.02 693L1493.01 693L1495 693L1497 693L1498.99 693L1500.98 693L1502.98 693L1504.97 693L1506.96 693L1508.95 693L1510.95 693L1512.94 693L1514.93 693L1516.93 693L1518.92 693L1520.91 693L1522.91 693L1524.9 692.99L1526.89 692.99L1528.89 692.99L1530.88 692.99L1532.87 692.98L1534.87 692.98L1536.86 692.97L1538.85 692.97L1540.85 692.96L1542.84 692.96L1544.83 692.95L1546.83 692.94L1548.82 692.94L1550.81 692.93L1552.81 692.92L1554.8 692.91L1556.79 692.9L1558.79 692.88L1560.78 692.87L1562.77 692.86L1564.77 692.84L1566.76 692.82L1568.75 692.81L1570.75 692.79L1572.74 692.77L1574.73 692.75L1576.72 692.73L1578.72 692.7L1580.71 692.68L1582.7 692.65L1584.7 692.62L1586.69 692.59L1588.68 692.55L1590.68 692.51L1592.67 692.47L1594.66 692.42L1596.66 692.37L1598.65 692.31L1600.64 692.24L1602.64 692.17L1604.63 692.1L1606.62 692.01L1608.62 691.92L1610.61 691.82L1612.6 691.71L1614.6 691.59L1616.59 691.47L1618.58 691.33L1620.58 691.19L1622.57 691.03L1624.56 690.87L1626.56 690.69L1628.55 690.5L1630.54 690.3L1632.54 690.09L1634.53 689.86L1636.52 689.62L1638.52 689.37L1640.51 689.1L1642.5 688.82L1644.49 688.53L1646.49 688.22L1648.48 687.89L1650.47 687.55L1652.47 687.19L1654.46 686.81L1656.45 686.4L1658.45 685.97L1660.44 685.52L1662.43 685.04L1664.43 684.52L1666.42 683.97L1668.41 683.39L1670.41 682.77L1672.4 682.11L1674.39 681.41L1676.39 680.67L1678.38 679.88L1680.37 679.04L1682.37 678.15L1684.36 677.22L1686.35 676.22L1688.35 675.17L1690.34 674.06L1692.33 672.9L1694.33 671.67L1696.32 670.37L1698.31 669.01L1700.31 667.58L1702.3 666.08L1704.29 664.5L1706.28 662.85L1708.28 661.12L1710.27 659.32L1712.26 657.43L1714.26 655.46L1716.25 653.4L1718.24 651.25L1720.24 649.02L1722.23 646.69L1724.22 644.27L1726.22 641.76L1728.21 639.16L1730.2 636.48L1732.2 633.7L1734.19 630.84L1736.18 627.89L1738.18 624.85L1740.17 621.73L1742.16 618.53L1744.16 615.24L1746.15 611.87L1748.14 608.42L1750.14 604.89L1752.13 601.28L1754.12 597.6L1756.12 593.83L1758.11 589.99L1760.1 586.07L1762.1 582.08L1764.09 578.02L1766.08 573.88L1768.08 569.67L1770.07 565.39L1772.06 561.03L1774.05 556.61L1776.05 552.12L1778.04 547.57L1780.03 542.94L1782.03 538.25L1784.02 533.5L1786.01 528.68L1788.01 523.79L1790 518.85L1791.99 513.84L1793.99 508.78L1795.98 503.66L1797.97 498.48L1799.96 493.27L1801.94 488.01L1803.91 482.72L1805.88 477.41L1807.83 472.08L1809.78 466.74L1811.71 461.39L1813.62 456.05L1815.52 450.71L1817.41 445.38L1819.27 440.07L1821.12 434.79L1822.94 429.54L1824.74 424.32L1826.51 419.16L1828.25 414.04L1829.97 408.98L1831.66 403.99L1833.32 399.06L1834.94 394.21L1836.54 389.44L1838.09 384.77L1839.61 380.19L1841.09 375.71L1842.53 371.33L1843.92 367.08L1845.28 362.94L1846.59 358.93L1847.85 355.05L1849.07 351.31L1850.23 347.72L1851.35 344.28L1852.41 341L1853.42 337.89L1854.37 334.94L1855.28 332.16L1856.13 329.53L1856.93 327.06L1857.68 324.74L1858.38 322.57L1859.04 320.53L1859.66 318.63L1860.23 316.87L1860.76 315.22L1861.25 313.7L1861.71 312.3L1862.13 311.01L1862.51 309.82L1862.86 308.74L1863.18 307.76L1863.47 306.87L1863.73 306.07L1863.96 305.35L1864.17 304.72L1864.35 304.15L1864.51 303.66L1864.65 303.24L1864.76 302.87L1864.86 302.56L1864.95 302.3L1865.02 302.09L1865.07 301.92L1865.11 301.79L1865.15 301.69L1865.17 301.62L1865.18 301.57L1865.19 301.54L1865.2 301.53L1865.2 301.52L1865.2 301.52" fill="none" stroke="#0000ff" stroke-width="10" stroke-linejoin="round" stroke-linecap="butt"/>
<polygon points="1214.5,677.53 1228,700.73 1201,700.73" fill="#0000ff"/>
<polygon points="1286.8,677.53 1300.3,700.73 1273.3,700.73" fill="#0000ff"/>
<polygon points="1359.1,677.53 1372.6,700.73 1345.6,700.73" fill="#0000ff"/>
<polygon points="1431.4,677.53 1444.9,700.73 1417.9,700.73" fill="#0000ff"/>
<polygon points="1503.7,677.53 1517.2,700.73 1490.2,700.73" fill="#0000ff"/>
<polygon points="1576,677.53 1589.5,700.73 1562.5,700.73" fill="#0000ff"/>
<polygon points="1648.3,675.95 1661.8,699.15 1634.8,699.15" fill="#0000ff"/>
<polygon points="1720.6,653.4 1734.1,676.6 1707.1,676.6" fill="#0000ff"/>
<polygon points="1792.9,509.26 1806.4,532.46 1779.4,532.46" fill="#0000ff"/>
<polygon points="1865.2,286.06 1878.7,309.26 1851.7,309.26" fill="#0000ff"/>
</g>
<line x1="1250.5" y1="110" x2="1354.5" y2="110" stroke="#000000" stroke-width="9" stroke-linecap="round"/>
<rect x="1292.3" y="99.6" width="20.4" height="20.8" fill="#000000"/>
<text x="0" y="0" font-size="46" font-weight="normal" text-anchor="start" transform="translate(1367 126.2) scale(1 1.055)" xml:space="preserve"><tspan>Co</tspan><tspan font-size="27" dy="14.72">3</tspan><tspan dy="-14.72">O</tspan><tspan font-size="27" dy="14.72">4</tspan><tspan dy="-14.72">-c</tspan></text>
<line x1="1250.5" y1="180.4" x2="1354.5" y2="180.4" stroke="#ff0000" stroke-width="9" stroke-linecap="round"/>
<circle cx="1302.5" cy="180.4" r="10.8" fill="#ff0000"/>
<text x="0" y="0" font-size="46" font-weight="normal" text-anchor="start" transform="translate(1367 196.6) scale(1 1.055)" xml:space="preserve"><tspan>Co</tspan><tspan font-size="27" dy="14.72">3</tspan><tspan dy="-14.72">O</tspan><tspan font-size="27" dy="14.72">4</tspan><tspan dy="-14.72">-s</tspan></text>
<line x1="1250.5" y1="250.8" x2="1354.5" y2="250.8" stroke="#0000ff" stroke-width="9" stroke-linecap="round"/>
<polygon points="1302.5,234.93 1316,258.73 1289,258.73" fill="#0000ff"/>
<text x="0" y="0" font-size="46" font-weight="normal" text-anchor="start" transform="translate(1367 267) scale(1 1.055)" xml:space="preserve"><tspan>Co</tspan><tspan font-size="27" dy="14.72">3</tspan><tspan dy="-14.72">O</tspan><tspan font-size="27" dy="14.72">4</tspan><tspan dy="-14.72">-com</tspan></text>
</g>
<g id="panel-c">
<path d="M218 819.5H945M218 1454.5H945" stroke="#000" stroke-width="3.0" fill="none"/>
<path d="M219.5 819.5V1454.5M943.5 819.5V1454.5" stroke="#000" stroke-width="3.0" fill="none"/>
<path d="M219.5 1454.5H208.5M219.5 1375.12H213.5M219.5 1295.75H208.5M219.5 1216.38H213.5M219.5 1137H208.5M219.5 1057.62H213.5M219.5 978.25H208.5M219.5 898.88H213.5M219.5 819.5H208.5" stroke="#000" stroke-width="3.0" fill="none" stroke-linecap="round"/>
<path d="M219.5 1454.5V1465.5M291.9 1454.5V1460.5M364.3 1454.5V1465.5M436.7 1454.5V1460.5M509.1 1454.5V1465.5M581.5 1454.5V1460.5M653.9 1454.5V1465.5M726.3 1454.5V1460.5M798.7 1454.5V1465.5M871.1 1454.5V1460.5M943.5 1454.5V1465.5" stroke="#000" stroke-width="3.0" fill="none" stroke-linecap="round"/>
<g font-size="31" font-weight="bold">
<text x="219.5" y="1496" text-anchor="middle">240</text>
<text x="364.3" y="1496" text-anchor="middle">280</text>
<text x="509.1" y="1496" text-anchor="middle">320</text>
<text x="653.9" y="1496" text-anchor="middle">360</text>
<text x="798.7" y="1496" text-anchor="middle">400</text>
<text x="943.5" y="1496" text-anchor="middle">440</text>
<text x="202.5" y="1462" text-anchor="end">0</text>
<text x="202.5" y="1303.25" text-anchor="end">5</text>
<text x="202.5" y="1144.5" text-anchor="end">10</text>
<text x="202.5" y="985.75" text-anchor="end">15</text>
<text x="202.5" y="827" text-anchor="end">20</text>
</g>
<text x="0" y="0" font-size="46" font-weight="bold" text-anchor="middle" transform="translate(117.7 1155.5) rotate(-90)" xml:space="preserve"><tspan>CHCl</tspan><tspan font-size="27" dy="14.72">3</tspan><tspan dy="-14.72">  (ppm)</tspan></text>
<text transform="translate(31 843) scale(1 0.985)" font-size="90">(c)</text>
<g clip-path="url(#clipc)" shape-rendering="crispEdges">
<path d="M219.5 1452.91L219.5 1452.91L219.5 1452.91L219.51 1452.91L219.52 1452.91L219.53 1452.91L219.55 1452.9L219.59 1452.89L219.63 1452.88L219.68 1452.87L219.75 1452.86L219.84 1452.84L219.94 1452.82L220.06 1452.79L220.19 1452.76L220.35 1452.73L220.54 1452.69L220.74 1452.65L220.97 1452.6L221.23 1452.54L221.52 1452.48L221.84 1452.41L222.19 1452.33L222.58 1452.25L223 1452.16L223.45 1452.06L223.94 1451.96L224.48 1451.84L225.05 1451.72L225.67 1451.59L226.33 1451.45L227.03 1451.29L227.79 1451.13L228.59 1450.96L229.44 1450.78L230.34 1450.58L231.3 1450.38L232.31 1450.16L233.37 1449.93L234.49 1449.69L235.66 1449.44L236.87 1449.17L238.14 1448.89L239.45 1448.59L240.8 1448.28L242.2 1447.96L243.65 1447.63L245.13 1447.27L246.65 1446.91L248.2 1446.52L249.8 1446.12L251.42 1445.71L253.08 1445.28L254.78 1444.83L256.5 1444.36L258.25 1443.88L260.02 1443.38L261.82 1442.86L263.65 1442.32L265.49 1441.77L267.36 1441.19L269.24 1440.6L271.15 1439.98L273.07 1439.35L275 1438.69L276.95 1438.02L278.91 1437.32L280.87 1436.6L282.85 1435.86L284.83 1435.1L286.82 1434.32L288.82 1433.51L290.81 1432.68L292.81 1431.83L294.8 1430.95L296.8 1430.05L298.8 1429.11L300.79 1428.14L302.79 1427.14L304.78 1426.09L306.78 1425L308.78 1423.87L310.77 1422.69L312.77 1421.45L314.76 1420.16L316.76 1418.81L318.76 1417.41L320.75 1415.93L322.75 1414.4L324.74 1412.79L326.74 1411.11L328.74 1409.35L330.73 1407.52L332.73 1405.6L334.72 1403.6L336.72 1401.51L338.72 1399.33L340.71 1397.06L342.71 1394.69L344.7 1392.22L346.7 1389.64L348.69 1386.97L350.69 1384.18L352.69 1381.28L354.68 1378.27L356.68 1375.14L358.67 1371.89L360.67 1368.52L362.67 1365.01L364.66 1361.38L366.66 1357.62L368.65 1353.74L370.65 1349.74L372.65 1345.62L374.64 1341.4L376.64 1337.08L378.63 1332.67L380.63 1328.17L382.63 1323.59L384.62 1318.94L386.62 1314.22L388.61 1309.43L390.61 1304.6L392.61 1299.71L394.6 1294.78L396.6 1289.82L398.59 1284.82L400.59 1279.81L402.59 1274.77L404.58 1269.72L406.58 1264.67L408.57 1259.63L410.57 1254.59L412.57 1249.56L414.56 1244.56L416.56 1239.58L418.55 1234.64L420.55 1229.73L422.55 1224.87L424.54 1220.07L426.54 1215.32L428.53 1210.64L430.53 1206.03L432.53 1201.5L434.52 1197.05L436.52 1192.69L438.51 1188.43L440.51 1184.26L442.51 1180.2L444.5 1176.23L446.5 1172.37L448.49 1168.61L450.49 1164.95L452.49 1161.39L454.48 1157.94L456.48 1154.6L458.47 1151.36L460.47 1148.23L462.47 1145.2L464.46 1142.29L466.46 1139.49L468.45 1136.8L470.45 1134.22L472.45 1131.75L474.44 1129.4L476.44 1127.16L478.43 1125.04L480.43 1123.04L482.43 1121.15L484.42 1119.39L486.42 1117.74L488.41 1116.21L490.41 1114.81L492.41 1113.53L494.4 1112.37L496.4 1111.33L498.39 1110.43L500.39 1109.64L502.39 1108.99L504.38 1108.46L506.38 1108.07L508.37 1107.8L510.37 1107.67L512.37 1107.66L514.36 1107.78L516.36 1108.02L518.35 1108.37L520.35 1108.84L522.35 1109.42L524.34 1110.1L526.34 1110.88L528.33 1111.76L530.33 1112.73L532.33 1113.79L534.32 1114.93L536.32 1116.16L538.31 1117.46L540.31 1118.83L542.31 1120.27L544.3 1121.77L546.3 1123.34L548.29 1124.96L550.29 1126.63L552.29 1128.34L554.28 1130.11L556.28 1131.91L558.27 1133.74L560.27 1135.61L562.27 1137.51L564.26 1139.43L566.26 1141.37L568.25 1143.32L570.25 1145.28L572.25 1147.25L574.24 1149.23L576.24 1151.2L578.23 1153.17L580.23 1155.13L582.23 1157.07L584.22 1159L586.22 1160.92L588.21 1162.82L590.21 1164.72L592.21 1166.61L594.2 1168.49L596.2 1170.36L598.19 1172.23L600.19 1174.1L602.19 1175.97L604.18 1177.84L606.18 1179.72L608.17 1181.6L610.17 1183.49L612.17 1185.39L614.16 1187.3L616.16 1189.22L618.15 1191.15L620.15 1193.1L622.15 1195.07L624.14 1197.06L626.14 1199.07L628.13 1201.1L630.13 1203.15L632.13 1205.23L634.12 1207.34L636.12 1209.48L638.11 1211.66L640.11 1213.86L642.11 1216.1L644.1 1218.37L646.1 1220.69L648.09 1223.04L650.09 1225.44L652.09 1227.88L654.08 1230.36L656.08 1232.89L658.07 1235.47L660.07 1238.08L662.07 1240.74L664.06 1243.43L666.06 1246.16L668.05 1248.92L670.05 1251.71L672.05 1254.53L674.04 1257.37L676.04 1260.23L678.03 1263.12L680.03 1266.02L682.03 1268.94L684.02 1271.87L686.02 1274.81L688.01 1277.76L690.01 1280.71L692.01 1283.67L694 1286.63L696 1289.59L697.99 1292.54L699.99 1295.49L701.99 1298.43L703.98 1301.36L705.98 1304.27L707.97 1307.17L709.97 1310.05L711.97 1312.91L713.96 1315.75L715.96 1318.56L717.95 1321.35L719.95 1324.1L721.95 1326.82L723.94 1329.51L725.94 1332.16L727.93 1334.76L729.93 1337.33L731.93 1339.86L733.92 1342.35L735.92 1344.8L737.91 1347.21L739.91 1349.58L741.91 1351.9L743.9 1354.19L745.9 1356.44L747.89 1358.65L749.89 1360.83L751.88 1362.96L753.88 1365.05L755.88 1367.11L757.87 1369.12L759.87 1371.1L761.86 1373.03L763.86 1374.93L765.86 1376.79L767.85 1378.62L769.85 1380.4L771.84 1382.15L773.84 1383.85L775.84 1385.52L777.83 1387.15L779.83 1388.75L781.82 1390.3L783.82 1391.82L785.82 1393.3L787.81 1394.74L789.81 1396.15L791.8 1397.51L793.8 1398.85L795.8 1400.14L797.79 1401.39L799.79 1402.61L801.78 1403.8L803.78 1404.94L805.77 1406.06L807.75 1407.13L809.73 1408.17L811.69 1409.18L813.65 1410.16L815.6 1411.1L817.53 1412.01L819.45 1412.89L821.36 1413.74L823.24 1414.56L825.11 1415.35L826.95 1416.12L828.78 1416.85L830.58 1417.56L832.35 1418.23L834.1 1418.89L835.82 1419.51L837.52 1420.11L839.18 1420.69L840.8 1421.24L842.4 1421.77L843.95 1422.28L845.47 1422.76L846.95 1423.23L848.4 1423.67L849.8 1424.09L851.15 1424.49L852.46 1424.87L853.73 1425.23L854.94 1425.58L856.11 1425.91L857.23 1426.22L858.29 1426.51L859.3 1426.79L860.26 1427.06L861.16 1427.31L862.01 1427.54L862.81 1427.76L863.57 1427.97L864.27 1428.17L864.93 1428.35L865.55 1428.52L866.12 1428.68L866.66 1428.82L867.15 1428.96L867.6 1429.09L868.02 1429.2L868.41 1429.31L868.76 1429.41L869.08 1429.49L869.37 1429.57L869.63 1429.65L869.86 1429.71L870.06 1429.77L870.25 1429.82L870.41 1429.86L870.54 1429.9L870.66 1429.93L870.76 1429.96L870.85 1429.98L870.92 1430L870.97 1430.02L871.01 1430.03L871.05 1430.04L871.07 1430.04L871.08 1430.05L871.09 1430.05L871.1 1430.05L871.1 1430.05L871.1 1430.05" fill="none" stroke="#000000" stroke-width="10" stroke-linejoin="round" stroke-linecap="butt"/>
<rect x="209.5" y="1442.91" width="20" height="20" fill="#000000"/>
<rect x="281.9" y="1427.36" width="20" height="20" fill="#000000"/>
<rect x="354.3" y="1381" width="20" height="20" fill="#000000"/>
<rect x="426.7" y="1160.97" width="20" height="20" fill="#000000"/>
<rect x="499.1" y="1068.9" width="20" height="20" fill="#000000"/>
<rect x="571.5" y="1149.86" width="20" height="20" fill="#000000"/>
<rect x="643.9" y="1209.87" width="20" height="20" fill="#000000"/>
<rect x="716.3" y="1331.47" width="20" height="20" fill="#000000"/>
<rect x="788.7" y="1400.05" width="20" height="20" fill="#000000"/>
<rect x="861.1" y="1420.05" width="20" height="20" fill="#000000"/>
<path d="M219.5 1454.5L219.5 1454.5L219.5 1454.5L219.51 1454.5L219.52 1454.5L219.53 1454.5L219.55 1454.5L219.59 1454.5L219.63 1454.5L219.68 1454.5L219.75 1454.5L219.84 1454.5L219.94 1454.5L220.06 1454.5L220.19 1454.5L220.35 1454.5L220.54 1454.5L220.74 1454.5L220.97 1454.5L221.23 1454.5L221.52 1454.5L221.84 1454.5L222.19 1454.5L222.58 1454.5L223 1454.5L223.45 1454.5L223.94 1454.5L224.48 1454.5L225.05 1454.5L225.67 1454.5L226.33 1454.5L227.03 1454.5L227.79 1454.5L228.59 1454.5L229.44 1454.5L230.34 1454.5L231.3 1454.5L232.31 1454.5L233.37 1454.5L234.49 1454.5L235.66 1454.5L236.87 1454.49L238.14 1454.49L239.45 1454.48L240.8 1454.47L242.2 1454.45L243.65 1454.43L245.13 1454.41L246.65 1454.38L248.2 1454.35L249.8 1454.31L251.42 1454.27L253.08 1454.22L254.78 1454.16L256.5 1454.09L258.25 1454.02L260.02 1453.94L261.82 1453.85L263.65 1453.75L265.49 1453.64L267.36 1453.52L269.24 1453.39L271.15 1453.25L273.07 1453.1L275 1452.94L276.95 1452.77L278.91 1452.58L280.87 1452.38L282.85 1452.16L284.83 1451.93L286.82 1451.69L288.82 1451.44L290.81 1451.16L292.81 1450.87L294.8 1450.57L296.8 1450.25L298.8 1449.91L300.79 1449.54L302.79 1449.16L304.78 1448.75L306.78 1448.32L308.78 1447.86L310.77 1447.38L312.77 1446.86L314.76 1446.32L316.76 1445.74L318.76 1445.13L320.75 1444.49L322.75 1443.81L324.74 1443.1L326.74 1442.35L328.74 1441.56L330.73 1440.72L332.73 1439.85L334.72 1438.93L336.72 1437.97L338.72 1436.96L340.71 1435.91L342.71 1434.8L344.7 1433.65L346.7 1432.44L348.69 1431.18L350.69 1429.87L352.69 1428.5L354.68 1427.07L356.68 1425.59L358.67 1424.05L360.67 1422.44L362.67 1420.77L364.66 1419.04L366.66 1417.25L368.65 1415.39L370.65 1413.47L372.65 1411.48L374.64 1409.42L376.64 1407.3L378.63 1405.11L380.63 1402.86L382.63 1400.55L384.62 1398.16L386.62 1395.71L388.61 1393.2L390.61 1390.62L392.61 1387.97L394.6 1385.25L396.6 1382.47L398.59 1379.63L400.59 1376.71L402.59 1373.73L404.58 1370.68L406.58 1367.56L408.57 1364.38L410.57 1361.13L412.57 1357.81L414.56 1354.42L416.56 1350.96L418.55 1347.44L420.55 1343.85L422.55 1340.19L424.54 1336.46L426.54 1332.66L428.53 1328.8L430.53 1324.86L432.53 1320.86L434.52 1316.78L436.52 1312.64L438.51 1308.43L440.51 1304.15L442.51 1299.81L444.5 1295.42L446.5 1290.98L448.49 1286.49L450.49 1281.97L452.49 1277.41L454.48 1272.81L456.48 1268.2L458.47 1263.56L460.47 1258.91L462.47 1254.24L464.46 1249.58L466.46 1244.91L468.45 1240.25L470.45 1235.59L472.45 1230.95L474.44 1226.33L476.44 1221.74L478.43 1217.18L480.43 1212.65L482.43 1208.16L484.42 1203.71L486.42 1199.32L488.41 1194.97L490.41 1190.69L492.41 1186.48L494.4 1182.33L496.4 1178.26L498.39 1174.26L500.39 1170.35L502.39 1166.53L504.38 1162.81L506.38 1159.18L508.37 1155.66L510.37 1152.25L512.37 1148.95L514.36 1145.76L516.36 1142.68L518.35 1139.71L520.35 1136.85L522.35 1134.1L524.34 1131.46L526.34 1128.93L528.33 1126.51L530.33 1124.19L532.33 1121.99L534.32 1119.89L536.32 1117.9L538.31 1116.01L540.31 1114.23L542.31 1112.56L544.3 1111L546.3 1109.54L548.29 1108.19L550.29 1106.94L552.29 1105.8L554.28 1104.76L556.28 1103.83L558.27 1103L560.27 1102.27L562.27 1101.65L564.26 1101.13L566.26 1100.72L568.25 1100.41L570.25 1100.2L572.25 1100.09L574.24 1100.08L576.24 1100.18L578.23 1100.37L580.23 1100.67L582.23 1101.07L584.22 1101.56L586.22 1102.16L588.21 1102.84L590.21 1103.62L592.21 1104.48L594.2 1105.42L596.2 1106.44L598.19 1107.54L600.19 1108.71L602.19 1109.96L604.18 1111.26L606.18 1112.63L608.17 1114.07L610.17 1115.55L612.17 1117.09L614.16 1118.68L616.16 1120.32L618.15 1122L620.15 1123.72L622.15 1125.48L624.14 1127.27L626.14 1129.09L628.13 1130.94L630.13 1132.81L632.13 1134.7L634.12 1136.61L636.12 1138.53L638.11 1140.46L640.11 1142.4L642.11 1144.34L644.1 1146.29L646.1 1148.23L648.09 1150.17L650.09 1152.09L652.09 1154.01L654.08 1155.9L656.08 1157.78L658.07 1159.65L660.07 1161.49L662.07 1163.32L664.06 1165.14L666.06 1166.95L668.05 1168.74L670.05 1170.53L672.05 1172.3L674.04 1174.07L676.04 1175.84L678.03 1177.6L680.03 1179.35L682.03 1181.11L684.02 1182.86L686.02 1184.61L688.01 1186.37L690.01 1188.13L692.01 1189.89L694 1191.66L696 1193.44L697.99 1195.23L699.99 1197.02L701.99 1198.83L703.98 1200.64L705.98 1202.48L707.97 1204.32L709.97 1206.19L711.97 1208.07L713.96 1209.96L715.96 1211.88L717.95 1213.82L719.95 1215.79L721.95 1217.77L723.94 1219.78L725.94 1221.82L727.93 1223.89L729.93 1225.98L731.93 1228.1L733.92 1230.25L735.92 1232.43L737.91 1234.63L739.91 1236.86L741.91 1239.12L743.9 1241.41L745.9 1243.72L747.89 1246.06L749.89 1248.42L751.88 1250.82L753.88 1253.23L755.88 1255.68L757.87 1258.15L759.87 1260.64L761.86 1263.17L763.86 1265.71L765.86 1268.29L767.85 1270.88L769.85 1273.51L771.84 1276.16L773.84 1278.83L775.84 1281.53L777.83 1284.25L779.83 1287L781.82 1289.77L783.82 1292.57L785.82 1295.39L787.81 1298.23L789.81 1301.1L791.8 1303.99L793.8 1306.91L795.8 1309.85L797.79 1312.81L799.79 1315.8L801.78 1318.8L803.78 1321.83L805.77 1324.87L807.75 1327.92L809.73 1330.98L811.69 1334.05L813.65 1337.12L815.6 1340.18L817.53 1343.24L819.45 1346.3L821.36 1349.34L823.24 1352.37L825.11 1355.38L826.95 1358.38L828.78 1361.34L830.58 1364.29L832.35 1367.2L834.1 1370.07L835.82 1372.91L837.52 1375.72L839.18 1378.47L840.8 1381.18L842.4 1383.85L843.95 1386.45L845.47 1389.01L846.95 1391.5L848.4 1393.93L849.8 1396.3L851.15 1398.59L852.46 1400.82L853.73 1402.97L854.94 1405.04L856.11 1407.03L857.23 1408.93L858.29 1410.75L859.3 1412.47L860.26 1414.1L861.16 1415.64L862.01 1417.09L862.81 1418.46L863.57 1419.74L864.27 1420.95L864.93 1422.07L865.55 1423.12L866.12 1424.1L866.66 1425.01L867.15 1425.85L867.6 1426.63L868.02 1427.34L868.41 1428L868.76 1428.6L869.08 1429.14L869.37 1429.63L869.63 1430.08L869.86 1430.47L870.06 1430.83L870.25 1431.14L870.41 1431.41L870.54 1431.64L870.66 1431.85L870.76 1432.02L870.85 1432.16L870.92 1432.28L870.97 1432.37L871.01 1432.44L871.05 1432.5L871.07 1432.54L871.08 1432.56L871.09 1432.58L871.1 1432.59L871.1 1432.59L871.1 1432.59" fill="none" stroke="#ff0000" stroke-width="10" stroke-linejoin="round" stroke-linecap="butt"/>
<circle cx="219.5" cy="1454.5" r="11.3" fill="#ff0000"/>
<circle cx="291.9" cy="1454.5" r="11.3" fill="#ff0000"/>
<circle cx="364.3" cy="1433.55" r="11.3" fill="#ff0000"/>
<circle cx="436.7" cy="1327.5" r="11.3" fill="#ff0000"/>
<circle cx="509.1" cy="1130.01" r="11.3" fill="#ff0000"/>
<circle cx="581.5" cy="1078.9" r="11.3" fill="#ff0000"/>
<circle cx="653.9" cy="1159.86" r="11.3" fill="#ff0000"/>
<circle cx="726.3" cy="1216.06" r="11.3" fill="#ff0000"/>
<circle cx="798.7" cy="1309.09" r="11.3" fill="#ff0000"/>
<circle cx="871.1" cy="1432.59" r="11.3" fill="#ff0000"/>
<path d="M219.5 1454.5L219.5 1454.5L219.5 1454.5L219.51 1454.5L219.52 1454.5L219.53 1454.5L219.55 1454.5L219.59 1454.5L219.63 1454.5L219.68 1454.5L219.75 1454.5L219.84 1454.5L219.94 1454.5L220.06 1454.5L220.19 1454.5L220.35 1454.5L220.54 1454.5L220.74 1454.5L220.97 1454.5L221.23 1454.5L221.52 1454.5L221.84 1454.5L222.19 1454.5L222.58 1454.5L223 1454.5L223.45 1454.5L223.94 1454.5L224.48 1454.5L225.05 1454.5L225.67 1454.5L226.33 1454.5L227.03 1454.5L227.79 1454.5L228.59 1454.5L229.44 1454.5L230.34 1454.5L231.3 1454.5L232.31 1454.5L233.37 1454.5L234.49 1454.5L235.66 1454.5L236.87 1454.5L238.14 1454.5L239.45 1454.5L240.8 1454.5L242.2 1454.5L243.65 1454.5L245.13 1454.5L246.65 1454.5L248.2 1454.5L249.8 1454.49L251.42 1454.49L253.08 1454.49L254.78 1454.49L256.5 1454.49L258.25 1454.49L260.02 1454.48L261.82 1454.48L263.65 1454.48L265.49 1454.47L267.36 1454.47L269.24 1454.47L271.15 1454.46L273.07 1454.46L275 1454.45L276.95 1454.45L278.91 1454.44L280.87 1454.44L282.85 1454.43L284.83 1454.42L286.82 1454.41L288.82 1454.41L290.81 1454.4L292.81 1454.39L294.8 1454.38L296.8 1454.37L298.8 1454.36L300.79 1454.35L302.79 1454.34L304.78 1454.32L306.78 1454.31L308.78 1454.29L310.77 1454.27L312.77 1454.25L314.76 1454.23L316.76 1454.21L318.76 1454.18L320.75 1454.15L322.75 1454.12L324.74 1454.09L326.74 1454.06L328.74 1454.02L330.73 1453.98L332.73 1453.93L334.72 1453.89L336.72 1453.84L338.72 1453.78L340.71 1453.73L342.71 1453.67L344.7 1453.6L346.7 1453.54L348.69 1453.46L350.69 1453.39L352.69 1453.31L354.68 1453.22L356.68 1453.14L358.67 1453.04L360.67 1452.94L362.67 1452.84L364.66 1452.73L366.66 1452.62L368.65 1452.5L370.65 1452.37L372.65 1452.24L374.64 1452.1L376.64 1451.94L378.63 1451.78L380.63 1451.6L382.63 1451.41L384.62 1451.21L386.62 1450.99L388.61 1450.75L390.61 1450.5L392.61 1450.23L394.6 1449.95L396.6 1449.64L398.59 1449.31L400.59 1448.96L402.59 1448.59L404.58 1448.19L406.58 1447.77L408.57 1447.33L410.57 1446.85L412.57 1446.35L414.56 1445.82L416.56 1445.27L418.55 1444.68L420.55 1444.06L422.55 1443.41L424.54 1442.72L426.54 1442L428.53 1441.25L430.53 1440.46L432.53 1439.63L434.52 1438.77L436.52 1437.86L438.51 1436.92L440.51 1435.93L442.51 1434.91L444.5 1433.84L446.5 1432.73L448.49 1431.58L450.49 1430.39L452.49 1429.15L454.48 1427.87L456.48 1426.54L458.47 1425.18L460.47 1423.76L462.47 1422.3L464.46 1420.8L466.46 1419.24L468.45 1417.64L470.45 1416L472.45 1414.3L474.44 1412.56L476.44 1410.77L478.43 1408.93L480.43 1407.04L482.43 1405.1L484.42 1403.11L486.42 1401.07L488.41 1398.98L490.41 1396.84L492.41 1394.64L494.4 1392.39L496.4 1390.09L498.39 1387.74L500.39 1385.33L502.39 1382.87L504.38 1380.35L506.38 1377.77L508.37 1375.14L510.37 1372.46L512.37 1369.71L514.36 1366.92L516.36 1364.07L518.35 1361.17L520.35 1358.22L522.35 1355.21L524.34 1352.16L526.34 1349.07L528.33 1345.92L530.33 1342.73L532.33 1339.5L534.32 1336.23L536.32 1332.92L538.31 1329.56L540.31 1326.17L542.31 1322.74L544.3 1319.27L546.3 1315.77L548.29 1312.24L550.29 1308.67L552.29 1305.07L554.28 1301.44L556.28 1297.78L558.27 1294.1L560.27 1290.39L562.27 1286.65L564.26 1282.89L566.26 1279.11L568.25 1275.31L570.25 1271.48L572.25 1267.64L574.24 1263.78L576.24 1259.9L578.23 1256.01L580.23 1252.1L582.23 1248.18L584.22 1244.25L586.22 1240.31L588.21 1236.36L590.21 1232.4L592.21 1228.43L594.2 1224.46L596.2 1220.49L598.19 1216.52L600.19 1212.54L602.19 1208.56L604.18 1204.59L606.18 1200.62L608.17 1196.65L610.17 1192.69L612.17 1188.74L614.16 1184.79L616.16 1180.85L618.15 1176.93L620.15 1173.01L622.15 1169.11L624.14 1165.23L626.14 1161.36L628.13 1157.51L630.13 1153.68L632.13 1149.86L634.12 1146.07L636.12 1142.31L638.11 1138.56L640.11 1134.84L642.11 1131.15L644.1 1127.49L646.1 1123.86L648.09 1120.25L650.09 1116.68L652.09 1113.15L654.08 1109.64L656.08 1106.18L658.07 1102.75L660.07 1099.36L662.07 1096L664.06 1092.69L666.06 1089.43L668.05 1086.2L670.05 1083.02L672.05 1079.89L674.04 1076.8L676.04 1073.76L678.03 1070.77L680.03 1067.83L682.03 1064.94L684.02 1062.11L686.02 1059.33L688.01 1056.6L690.01 1053.93L692.01 1051.32L694 1048.77L696 1046.28L697.99 1043.85L699.99 1041.49L701.99 1039.18L703.98 1036.95L705.98 1034.77L707.97 1032.67L709.97 1030.63L711.97 1028.67L713.96 1026.78L715.96 1024.95L717.95 1023.21L719.95 1021.53L721.95 1019.94L723.94 1018.42L725.94 1016.97L727.93 1015.61L729.93 1014.33L731.93 1013.13L733.92 1012.01L735.92 1010.97L737.91 1010.02L739.91 1009.14L741.91 1008.35L743.9 1007.65L745.9 1007.02L747.89 1006.48L749.89 1006.03L751.88 1005.66L753.88 1005.38L755.88 1005.18L757.87 1005.07L759.87 1005.05L761.86 1005.12L763.86 1005.27L765.86 1005.52L767.85 1005.85L769.85 1006.27L771.84 1006.78L773.84 1007.38L775.84 1008.07L777.83 1008.86L779.83 1009.73L781.82 1010.7L783.82 1011.76L785.82 1012.92L787.81 1014.17L789.81 1015.51L791.8 1016.95L793.8 1018.48L795.8 1020.11L797.79 1021.83L799.79 1023.65L801.78 1025.57L803.78 1027.57L805.77 1029.65L807.75 1031.82L809.73 1034.05L811.69 1036.36L813.65 1038.72L815.6 1041.14L817.53 1043.61L819.45 1046.13L821.36 1048.69L823.24 1051.28L825.11 1053.9L826.95 1056.54L828.78 1059.2L830.58 1061.88L832.35 1064.56L834.1 1067.25L835.82 1069.93L837.52 1072.61L839.18 1075.27L840.8 1077.91L842.4 1080.53L843.95 1083.11L845.47 1085.66L846.95 1088.18L848.4 1090.64L849.8 1093.05L851.15 1095.41L852.46 1097.7L853.73 1099.93L854.94 1102.08L856.11 1104.16L857.23 1106.15L858.29 1108.05L859.3 1109.86L860.26 1111.57L861.16 1113.19L862.01 1114.71L862.81 1116.14L863.57 1117.49L864.27 1118.75L864.93 1119.93L865.55 1121.04L866.12 1122.06L866.66 1123.02L867.15 1123.9L867.6 1124.71L868.02 1125.46L868.41 1126.15L868.76 1126.78L869.08 1127.35L869.37 1127.86L869.63 1128.33L869.86 1128.74L870.06 1129.11L870.25 1129.44L870.41 1129.73L870.54 1129.97L870.66 1130.19L870.76 1130.37L870.85 1130.52L870.92 1130.64L870.97 1130.74L871.01 1130.81L871.05 1130.87L871.07 1130.91L871.08 1130.94L871.09 1130.96L871.1 1130.96L871.1 1130.97L871.1 1130.97" fill="none" stroke="#0000ff" stroke-width="10" stroke-linejoin="round" stroke-linecap="butt"/>
<polygon points="219.5,1439.03 233,1462.23 206,1462.23" fill="#0000ff"/>
<polygon points="291.9,1439.03 305.4,1462.23 278.4,1462.23" fill="#0000ff"/>
<polygon points="364.3,1438.4 377.8,1461.6 350.8,1461.6" fill="#0000ff"/>
<polygon points="436.7,1431.1 450.2,1454.3 423.2,1454.3" fill="#0000ff"/>
<polygon points="509.1,1371.09 522.6,1394.29 495.6,1394.29" fill="#0000ff"/>
<polygon points="581.5,1236.79 595,1259.99 568,1259.99" fill="#0000ff"/>
<polygon points="653.9,1086.61 667.4,1109.81 640.4,1109.81" fill="#0000ff"/>
<polygon points="726.3,983.74 739.8,1006.94 712.8,1006.94" fill="#0000ff"/>
<polygon points="798.7,985.96 812.2,1009.16 785.2,1009.16" fill="#0000ff"/>
<polygon points="871.1,1115.5 884.6,1138.7 857.6,1138.7" fill="#0000ff"/>
</g>
<line x1="229.3" y1="867.5" x2="333.3" y2="867.5" stroke="#000000" stroke-width="9" stroke-linecap="round"/>
<rect x="271.1" y="857.1" width="20.4" height="20.8" fill="#000000"/>
<text x="0" y="0" font-size="46" font-weight="normal" text-anchor="start" transform="translate(345.5 883.7) scale(1 1.055)" xml:space="preserve"><tspan>Co</tspan><tspan font-size="27" dy="14.72">3</tspan><tspan dy="-14.72">O</tspan><tspan font-size="27" dy="14.72">4</tspan><tspan dy="-14.72">-c</tspan></text>
<line x1="229.3" y1="937.9" x2="333.3" y2="937.9" stroke="#ff0000" stroke-width="9" stroke-linecap="round"/>
<circle cx="281.3" cy="937.9" r="10.8" fill="#ff0000"/>
<text x="0" y="0" font-size="46" font-weight="normal" text-anchor="start" transform="translate(345.5 954.1) scale(1 1.055)" xml:space="preserve"><tspan>Co</tspan><tspan font-size="27" dy="14.72">3</tspan><tspan dy="-14.72">O</tspan><tspan font-size="27" dy="14.72">4</tspan><tspan dy="-14.72">-s</tspan></text>
<line x1="229.3" y1="1008.3" x2="333.3" y2="1008.3" stroke="#0000ff" stroke-width="9" stroke-linecap="round"/>
<polygon points="281.3,992.43 294.8,1016.23 267.8,1016.23" fill="#0000ff"/>
<text x="0" y="0" font-size="46" font-weight="normal" text-anchor="start" transform="translate(345.5 1024.5) scale(1 1.055)" xml:space="preserve"><tspan>Co</tspan><tspan font-size="27" dy="14.72">3</tspan><tspan dy="-14.72">O</tspan><tspan font-size="27" dy="14.72">4</tspan><tspan dy="-14.72">-com</tspan></text>
</g>
<g id="panel-d">
<path d="M1213 819.5H1939M1213 1454.5H1939" stroke="#000" stroke-width="3.0" fill="none"/>
<path d="M1214.5 819.5V1454.5M1937.5 819.5V1454.5" stroke="#000" stroke-width="3.0" fill="none"/>
<path d="M1214.5 1454.5H1203.5M1214.5 1375.12H1208.5M1214.5 1295.75H1203.5M1214.5 1216.38H1208.5M1214.5 1137H1203.5M1214.5 1057.62H1208.5M1214.5 978.25H1203.5M1214.5 898.88H1208.5M1214.5 819.5H1203.5" stroke="#000" stroke-width="3.0" fill="none" stroke-linecap="round"/>
<path d="M1214.5 1454.5V1465.5M1286.8 1454.5V1460.5M1359.1 1454.5V1465.5M1431.4 1454.5V1460.5M1503.7 1454.5V1465.5M1576 1454.5V1460.5M1648.3 1454.5V1465.5M1720.6 1454.5V1460.5M1792.9 1454.5V1465.5M1865.2 1454.5V1460.5M1937.5 1454.5V1465.5" stroke="#000" stroke-width="3.0" fill="none" stroke-linecap="round"/>
<g font-size="31" font-weight="bold">
<text x="1214.5" y="1496" text-anchor="middle">240</text>
<text x="1359.1" y="1496" text-anchor="middle">280</text>
<text x="1503.7" y="1496" text-anchor="middle">320</text>
<text x="1648.3" y="1496" text-anchor="middle">360</text>
<text x="1792.9" y="1496" text-anchor="middle">400</text>
<text x="1937.5" y="1496" text-anchor="middle">440</text>
<text x="1197.5" y="1462" text-anchor="end">0</text>
<text x="1197.5" y="1303.25" text-anchor="end">5</text>
<text x="1197.5" y="1144.5" text-anchor="end">10</text>
<text x="1197.5" y="985.75" text-anchor="end">15</text>
<text x="1197.5" y="827" text-anchor="end">20</text>
</g>
<text x="0" y="0" font-size="46" font-weight="bold" text-anchor="middle" transform="translate(1088.7 1161.2) rotate(-90)" xml:space="preserve"><tspan>CHCl</tspan><tspan font-size="27" dy="14.72">4</tspan><tspan dy="-14.72">  (ppm)</tspan></text>
<text transform="translate(1029 875) scale(1 0.985)" font-size="90">(d)</text>
<g clip-path="url(#clipd)" shape-rendering="crispEdges">
<path d="M1214.5 1414.18L1216.13 1413.87L1217.76 1413.57L1219.39 1413.26L1221.02 1412.95L1222.65 1412.64L1224.28 1412.33L1225.92 1412.02L1227.55 1411.7L1229.18 1411.37L1230.81 1411.05L1232.44 1410.71L1234.07 1410.37L1235.7 1410.03L1237.33 1409.68L1238.96 1409.32L1240.59 1408.95L1242.22 1408.58L1243.85 1408.2L1245.49 1407.8L1247.12 1407.4L1248.75 1406.99L1250.38 1406.57L1252.01 1406.13L1253.64 1405.69L1255.27 1405.23L1256.9 1404.76L1258.53 1404.27L1260.16 1403.77L1261.79 1403.26L1263.42 1402.73L1265.06 1402.19L1266.69 1401.63L1268.32 1401.05L1269.95 1400.46L1271.58 1399.85L1273.21 1399.22L1274.84 1398.58L1276.47 1397.91L1278.1 1397.23L1279.73 1396.52L1281.36 1395.8L1282.99 1395.05L1284.63 1394.28L1286.26 1393.49L1286.8 1393.22L1287.89 1392.68L1289.52 1391.84L1291.15 1390.99L1292.78 1390.12L1294.41 1389.23L1296.04 1388.33L1297.67 1387.42L1299.3 1386.5L1300.93 1385.57L1302.56 1384.63L1304.2 1383.7L1305.83 1382.75L1307.46 1381.81L1309.09 1380.87L1310.72 1379.94L1312.35 1379.01L1313.98 1378.09L1315.61 1377.18L1317.24 1376.28L1318.87 1375.39L1320.5 1374.52L1322.13 1373.67L1323.77 1372.84L1325.4 1372.02L1327.03 1371.24L1328.66 1370.47L1330.29 1369.74L1331.92 1369.03L1333.55 1368.36L1335.18 1367.72L1336.81 1367.11L1338.44 1366.54L1340.07 1366.01L1341.7 1365.52L1343.34 1365.08L1344.97 1364.68L1346.6 1364.32L1348.23 1364.02L1349.86 1363.76L1351.49 1363.56L1353.12 1363.42L1354.75 1363.33L1356.38 1363.29L1358.01 1363.32L1359.1 1363.38L1359.64 1363.42L1361.27 1363.57L1362.91 1363.78L1364.54 1364.03L1366.17 1364.33L1367.8 1364.66L1369.43 1365.02L1371.06 1365.41L1372.69 1365.8L1374.32 1366.21L1375.95 1366.62L1377.58 1367.02L1379.21 1367.41L1380.84 1367.78L1382.48 1368.12L1384.11 1368.44L1385.74 1368.71L1387.37 1368.94L1389 1369.12L1390.63 1369.24L1392.26 1369.29L1393.89 1369.27L1395.52 1369.17L1397.15 1368.99L1398.78 1368.71L1400.41 1368.34L1402.05 1367.86L1403.68 1367.27L1405.31 1366.56L1406.94 1365.72L1408.57 1364.75L1410.2 1363.64L1411.83 1362.39L1413.46 1360.98L1415.09 1359.41L1416.72 1357.68L1418.35 1355.78L1419.98 1353.69L1421.62 1351.43L1423.25 1348.96L1424.88 1346.3L1426.51 1343.44L1428.14 1340.36L1429.77 1337.06L1431.4 1333.53L1433.03 1329.78L1434.66 1325.8L1436.29 1321.6L1437.92 1317.19L1439.55 1312.58L1441.18 1307.77L1442.82 1302.77L1444.45 1297.6L1446.08 1292.25L1447.71 1286.73L1449.34 1281.06L1450.97 1275.23L1452.6 1269.27L1454.23 1263.16L1455.86 1256.93L1457.49 1250.57L1459.12 1244.1L1460.75 1237.53L1462.39 1230.85L1464.02 1224.09L1465.65 1217.24L1467.28 1210.31L1468.91 1203.31L1470.54 1196.25L1472.17 1189.14L1473.8 1181.98L1475.43 1174.78L1477.06 1167.55L1478.69 1160.29L1480.32 1153.02L1481.96 1145.73L1483.59 1138.45L1485.22 1131.16L1486.85 1123.89L1488.48 1116.64L1490.11 1109.42L1491.74 1102.23L1493.37 1095.08L1495 1087.99L1496.63 1080.95L1498.26 1073.97L1499.89 1067.07L1501.53 1060.24L1503.16 1053.5L1503.7 1051.28L1504.79 1046.86L1506.42 1040.31L1508.05 1033.86L1509.68 1027.52L1511.31 1021.28L1512.94 1015.16L1514.57 1009.14L1516.2 1003.24L1517.83 997.46L1519.46 991.8L1521.1 986.26L1522.73 980.85L1524.36 975.57L1525.99 970.41L1527.62 965.4L1529.25 960.52L1530.88 955.77L1532.51 951.18L1534.14 946.72L1535.77 942.42L1537.4 938.26L1539.03 934.26L1540.67 930.42L1542.3 926.74L1543.93 923.21L1545.56 919.86L1547.19 916.67L1548.82 913.65L1550.45 910.8L1552.08 908.13L1553.71 905.64L1555.34 903.33L1556.97 901.2L1558.6 899.26L1560.24 897.51L1561.87 895.96L1563.5 894.59L1565.13 893.43L1566.76 892.47L1568.39 891.71L1570.02 891.15L1571.65 890.81L1573.28 890.68L1574.91 890.76L1576 890.94L1576.54 891.06L1578.17 891.58L1579.81 892.31L1581.44 893.25L1583.07 894.4L1584.7 895.75L1586.33 897.3L1587.96 899.05L1589.59 900.98L1591.22 903.11L1592.85 905.41L1594.48 907.9L1596.11 910.56L1597.74 913.39L1599.38 916.39L1601.01 919.55L1602.64 922.87L1604.27 926.35L1605.9 929.98L1607.53 933.75L1609.16 937.68L1610.79 941.74L1612.42 945.94L1614.05 950.27L1615.68 954.73L1617.31 959.31L1618.95 964.02L1620.58 968.84L1622.21 973.77L1623.84 978.82L1625.47 983.96L1627.1 989.22L1628.73 994.56L1630.36 1000.01L1631.99 1005.54L1633.62 1011.15L1635.25 1016.85L1636.88 1022.63L1638.52 1028.48L1640.15 1034.4L1641.78 1040.39L1643.41 1046.44L1645.04 1052.55L1646.67 1058.71L1648.3 1064.93L1649.93 1071.19L1651.56 1077.49L1653.19 1083.84L1654.82 1090.21L1656.45 1096.62L1658.08 1103.06L1659.72 1109.52L1661.35 1116L1662.98 1122.49L1664.61 1129L1666.24 1135.51L1667.87 1142.03L1669.5 1148.54L1671.13 1155.05L1672.76 1161.55L1674.39 1168.04L1676.02 1174.52L1677.65 1180.97L1679.29 1187.4L1680.92 1193.8L1682.55 1200.16L1684.18 1206.49L1685.81 1212.78L1687.44 1219.03L1689.07 1225.23L1690.7 1231.37L1692.33 1237.46L1693.96 1243.49L1695.59 1249.46L1697.22 1255.36L1698.86 1261.18L1700.49 1266.93L1702.12 1272.6L1703.75 1278.19L1705.38 1283.69L1707.01 1289.09L1708.64 1294.4L1710.27 1299.61L1711.9 1304.72L1713.53 1309.72L1715.16 1314.61L1716.79 1319.38L1718.43 1324.03L1720.06 1328.56L1720.6 1330.04L1721.69 1332.96L1723.32 1337.23L1724.95 1341.38L1726.58 1345.41L1728.21 1349.31L1729.84 1353.1L1731.47 1356.77L1733.1 1360.33L1734.73 1363.77L1736.36 1367.1L1738 1370.33L1739.63 1373.45L1741.26 1376.46L1742.89 1379.38L1744.52 1382.19L1746.15 1384.91L1747.78 1387.54L1749.41 1390.07L1751.04 1392.51L1752.67 1394.86L1754.3 1397.13L1755.93 1399.31L1757.57 1401.41L1759.2 1403.43L1760.83 1405.37L1762.46 1407.24L1764.09 1409.03L1765.72 1410.76L1767.35 1412.41L1768.98 1414L1770.61 1415.52L1772.24 1416.98L1773.87 1418.38L1775.5 1419.72L1777.14 1421.01L1778.77 1422.24L1780.4 1423.43L1782.03 1424.56L1783.66 1425.64L1785.29 1426.68L1786.92 1427.68L1788.55 1428.64L1790.18 1429.55L1791.81 1430.44L1792.9 1431.01L1793.44 1431.28L1795.07 1432.1L1796.71 1432.88L1798.34 1433.63L1799.97 1434.36L1801.6 1435.05L1803.23 1435.71L1804.86 1436.35L1806.49 1436.95L1808.12 1437.54L1809.75 1438.09L1811.38 1438.62L1813.01 1439.13L1814.64 1439.61L1816.28 1440.07L1817.91 1440.51L1819.54 1440.92L1821.17 1441.32L1822.8 1441.7L1824.43 1442.05L1826.06 1442.39L1827.69 1442.71L1829.32 1443.01L1830.95 1443.3L1832.58 1443.57L1834.21 1443.83L1835.85 1444.07L1837.48 1444.3L1839.11 1444.52L1840.74 1444.72L1842.37 1444.92L1844 1445.1L1845.63 1445.27L1847.26 1445.44L1848.89 1445.59L1850.52 1445.74L1852.15 1445.89L1853.78 1446.02L1855.42 1446.16L1857.05 1446.28L1858.68 1446.41L1860.31 1446.53L1861.94 1446.65L1863.57 1446.76L1865.2 1446.88" fill="none" stroke="#000000" stroke-width="10" stroke-linejoin="round" stroke-linecap="butt"/>
<rect x="1204.5" y="1404.18" width="20" height="20" fill="#000000"/>
<rect x="1276.8" y="1383.22" width="20" height="20" fill="#000000"/>
<rect x="1349.1" y="1353.38" width="20" height="20" fill="#000000"/>
<rect x="1421.4" y="1323.53" width="20" height="20" fill="#000000"/>
<rect x="1493.7" y="1041.28" width="20" height="20" fill="#000000"/>
<rect x="1566" y="880.94" width="20" height="20" fill="#000000"/>
<rect x="1638.3" y="1054.93" width="20" height="20" fill="#000000"/>
<rect x="1710.6" y="1320.04" width="20" height="20" fill="#000000"/>
<rect x="1782.9" y="1421.01" width="20" height="20" fill="#000000"/>
<rect x="1855.2" y="1436.88" width="20" height="20" fill="#000000"/>
<path d="M1214.5 1452.91L1216.13 1452.7L1217.76 1452.49L1219.39 1452.28L1221.02 1452.06L1222.65 1451.83L1224.28 1451.6L1225.92 1451.35L1227.55 1451.09L1229.18 1450.82L1230.81 1450.54L1232.44 1450.23L1234.07 1449.91L1235.7 1449.57L1237.33 1449.2L1238.96 1448.81L1240.59 1448.39L1242.22 1447.95L1243.85 1447.48L1245.49 1446.97L1247.12 1446.44L1248.75 1445.86L1250.38 1445.26L1252.01 1444.61L1253.64 1443.93L1255.27 1443.2L1256.9 1442.43L1258.53 1441.62L1260.16 1440.76L1261.79 1439.85L1263.42 1438.89L1265.06 1437.88L1266.69 1436.81L1268.32 1435.7L1269.95 1434.52L1271.58 1433.28L1273.21 1431.99L1274.84 1430.63L1276.47 1429.21L1278.1 1427.73L1279.73 1426.17L1281.36 1424.55L1282.99 1422.86L1284.63 1421.09L1286.26 1419.25L1286.8 1418.62L1287.89 1417.34L1289.52 1415.35L1291.15 1413.29L1292.78 1411.16L1294.41 1408.96L1296.04 1406.7L1297.67 1404.38L1299.3 1402L1300.93 1399.57L1302.56 1397.08L1304.2 1394.55L1305.83 1391.97L1307.46 1389.34L1309.09 1386.68L1310.72 1383.98L1312.35 1381.24L1313.98 1378.47L1315.61 1375.66L1317.24 1372.84L1318.87 1369.98L1320.5 1367.11L1322.13 1364.22L1323.77 1361.31L1325.4 1358.39L1327.03 1355.46L1328.66 1352.52L1330.29 1349.58L1331.92 1346.63L1333.55 1343.69L1335.18 1340.75L1336.81 1337.82L1338.44 1334.9L1340.07 1331.99L1341.7 1329.09L1343.34 1326.21L1344.97 1323.35L1346.6 1320.52L1348.23 1317.71L1349.86 1314.94L1351.49 1312.19L1353.12 1309.48L1354.75 1306.8L1356.38 1304.17L1358.01 1301.58L1359.1 1299.88L1359.64 1299.03L1361.27 1296.54L1362.91 1294.09L1364.54 1291.68L1366.17 1289.33L1367.8 1287.01L1369.43 1284.75L1371.06 1282.53L1372.69 1280.35L1374.32 1278.22L1375.95 1276.13L1377.58 1274.08L1379.21 1272.07L1380.84 1270.11L1382.48 1268.19L1384.11 1266.31L1385.74 1264.47L1387.37 1262.67L1389 1260.91L1390.63 1259.19L1392.26 1257.51L1393.89 1255.86L1395.52 1254.26L1397.15 1252.69L1398.78 1251.15L1400.41 1249.66L1402.05 1248.2L1403.68 1246.77L1405.31 1245.38L1406.94 1244.02L1408.57 1242.7L1410.2 1241.41L1411.83 1240.16L1413.46 1238.93L1415.09 1237.74L1416.72 1236.58L1418.35 1235.46L1419.98 1234.36L1421.62 1233.29L1423.25 1232.25L1424.88 1231.24L1426.51 1230.26L1428.14 1229.31L1429.77 1228.38L1431.4 1227.49L1433.03 1226.62L1434.66 1225.77L1436.29 1224.94L1437.92 1224.13L1439.55 1223.34L1441.18 1222.55L1442.82 1221.78L1444.45 1221.01L1446.08 1220.24L1447.71 1219.47L1449.34 1218.69L1450.97 1217.91L1452.6 1217.12L1454.23 1216.31L1455.86 1215.48L1457.49 1214.64L1459.12 1213.77L1460.75 1212.87L1462.39 1211.95L1464.02 1210.99L1465.65 1210L1467.28 1208.96L1468.91 1207.89L1470.54 1206.77L1472.17 1205.6L1473.8 1204.38L1475.43 1203.1L1477.06 1201.77L1478.69 1200.37L1480.32 1198.91L1481.96 1197.39L1483.59 1195.79L1485.22 1194.12L1486.85 1192.37L1488.48 1190.55L1490.11 1188.64L1491.74 1186.64L1493.37 1184.55L1495 1182.38L1496.63 1180.1L1498.26 1177.73L1499.89 1175.26L1501.53 1172.68L1503.16 1169.99L1503.7 1169.07L1504.79 1167.19L1506.42 1164.28L1508.05 1161.27L1509.68 1158.17L1511.31 1154.97L1512.94 1151.69L1514.57 1148.33L1516.2 1144.9L1517.83 1141.4L1519.46 1137.84L1521.1 1134.22L1522.73 1130.55L1524.36 1126.85L1525.99 1123.1L1527.62 1119.32L1529.25 1115.52L1530.88 1111.7L1532.51 1107.86L1534.14 1104.02L1535.77 1100.17L1537.4 1096.33L1539.03 1092.5L1540.67 1088.69L1542.3 1084.89L1543.93 1081.13L1545.56 1077.4L1547.19 1073.7L1548.82 1070.06L1550.45 1066.46L1552.08 1062.93L1553.71 1059.45L1555.34 1056.05L1556.97 1052.72L1558.6 1049.47L1560.24 1046.31L1561.87 1043.24L1563.5 1040.27L1565.13 1037.41L1566.76 1034.65L1568.39 1032.02L1570.02 1029.5L1571.65 1027.12L1573.28 1024.87L1574.91 1022.76L1576 1021.43L1576.54 1020.79L1578.17 1018.98L1579.81 1017.31L1581.44 1015.79L1583.07 1014.41L1584.7 1013.17L1586.33 1012.07L1587.96 1011.1L1589.59 1010.27L1591.22 1009.58L1592.85 1009.01L1594.48 1008.57L1596.11 1008.26L1597.74 1008.07L1599.38 1008L1601.01 1008.05L1602.64 1008.22L1604.27 1008.5L1605.9 1008.89L1607.53 1009.4L1609.16 1010.01L1610.79 1010.73L1612.42 1011.56L1614.05 1012.48L1615.68 1013.51L1617.31 1014.63L1618.95 1015.85L1620.58 1017.16L1622.21 1018.56L1623.84 1020.05L1625.47 1021.63L1627.1 1023.29L1628.73 1025.03L1630.36 1026.86L1631.99 1028.76L1633.62 1030.74L1635.25 1032.79L1636.88 1034.91L1638.52 1037.11L1640.15 1039.37L1641.78 1041.69L1643.41 1044.08L1645.04 1046.52L1646.67 1049.03L1648.3 1051.59L1649.93 1054.21L1651.56 1056.88L1653.19 1059.6L1654.82 1062.37L1656.45 1065.19L1658.08 1068.06L1659.72 1070.98L1661.35 1073.94L1662.98 1076.94L1664.61 1079.99L1666.24 1083.09L1667.87 1086.22L1669.5 1089.39L1671.13 1092.61L1672.76 1095.85L1674.39 1099.14L1676.02 1102.46L1677.65 1105.82L1679.29 1109.2L1680.92 1112.62L1682.55 1116.07L1684.18 1119.55L1685.81 1123.06L1687.44 1126.6L1689.07 1130.16L1690.7 1133.74L1692.33 1137.35L1693.96 1140.98L1695.59 1144.63L1697.22 1148.3L1698.86 1151.99L1700.49 1155.7L1702.12 1159.42L1703.75 1163.16L1705.38 1166.92L1707.01 1170.68L1708.64 1174.46L1710.27 1178.25L1711.9 1182.05L1713.53 1185.85L1715.16 1189.66L1716.79 1193.48L1718.43 1197.3L1720.06 1201.13L1720.6 1202.4L1721.69 1204.96L1723.32 1208.79L1724.95 1212.61L1726.58 1216.44L1728.21 1220.26L1729.84 1224.08L1731.47 1227.9L1733.1 1231.7L1734.73 1235.5L1736.36 1239.28L1738 1243.05L1739.63 1246.82L1741.26 1250.56L1742.89 1254.29L1744.52 1258L1746.15 1261.7L1747.78 1265.37L1749.41 1269.02L1751.04 1272.65L1752.67 1276.26L1754.3 1279.84L1755.93 1283.39L1757.57 1286.91L1759.2 1290.41L1760.83 1293.87L1762.46 1297.3L1764.09 1300.7L1765.72 1304.05L1767.35 1307.38L1768.98 1310.66L1770.61 1313.91L1772.24 1317.11L1773.87 1320.27L1775.5 1323.39L1777.14 1326.46L1778.77 1329.49L1780.4 1332.46L1782.03 1335.39L1783.66 1338.27L1785.29 1341.09L1786.92 1343.86L1788.55 1346.58L1790.18 1349.23L1791.81 1351.83L1792.9 1353.54L1793.44 1354.38L1795.07 1356.86L1796.71 1359.28L1798.34 1361.65L1799.97 1363.96L1801.6 1366.21L1803.23 1368.41L1804.86 1370.56L1806.49 1372.67L1808.12 1374.72L1809.75 1376.72L1811.38 1378.68L1813.01 1380.59L1814.64 1382.46L1816.28 1384.29L1817.91 1386.07L1819.54 1387.82L1821.17 1389.53L1822.8 1391.2L1824.43 1392.84L1826.06 1394.44L1827.69 1396.01L1829.32 1397.55L1830.95 1399.06L1832.58 1400.54L1834.21 1401.99L1835.85 1403.42L1837.48 1404.82L1839.11 1406.2L1840.74 1407.56L1842.37 1408.9L1844 1410.22L1845.63 1411.52L1847.26 1412.8L1848.89 1414.07L1850.52 1415.33L1852.15 1416.57L1853.78 1417.8L1855.42 1419.03L1857.05 1420.24L1858.68 1421.45L1860.31 1422.65L1861.94 1423.85L1863.57 1425.05L1865.2 1426.24" fill="none" stroke="#ff0000" stroke-width="10" stroke-linejoin="round" stroke-linecap="butt"/>
<circle cx="1214.5" cy="1452.91" r="11.3" fill="#ff0000"/>
<circle cx="1286.8" cy="1418.62" r="11.3" fill="#ff0000"/>
<circle cx="1359.1" cy="1299.88" r="11.3" fill="#ff0000"/>
<circle cx="1431.4" cy="1227.49" r="11.3" fill="#ff0000"/>
<circle cx="1503.7" cy="1169.07" r="11.3" fill="#ff0000"/>
<circle cx="1576" cy="1021.43" r="11.3" fill="#ff0000"/>
<circle cx="1648.3" cy="1051.59" r="11.3" fill="#ff0000"/>
<circle cx="1720.6" cy="1202.4" r="11.3" fill="#ff0000"/>
<circle cx="1792.9" cy="1353.54" r="11.3" fill="#ff0000"/>
<circle cx="1865.2" cy="1426.24" r="11.3" fill="#ff0000"/>
<path d="M1214.5 1454.5L1216.13 1454.52L1217.76 1454.53L1219.39 1454.55L1221.02 1454.57L1222.65 1454.59L1224.28 1454.6L1225.92 1454.62L1227.55 1454.64L1229.18 1454.65L1230.81 1454.67L1232.44 1454.68L1234.07 1454.69L1235.7 1454.71L1237.33 1454.72L1238.96 1454.73L1240.59 1454.74L1242.22 1454.75L1243.85 1454.76L1245.49 1454.77L1247.12 1454.78L1248.75 1454.78L1250.38 1454.79L1252.01 1454.79L1253.64 1454.8L1255.27 1454.8L1256.9 1454.8L1258.53 1454.8L1260.16 1454.79L1261.79 1454.79L1263.42 1454.78L1265.06 1454.78L1266.69 1454.77L1268.32 1454.76L1269.95 1454.74L1271.58 1454.73L1273.21 1454.71L1274.84 1454.7L1276.47 1454.68L1278.1 1454.65L1279.73 1454.63L1281.36 1454.6L1282.99 1454.58L1284.63 1454.54L1286.26 1454.51L1286.8 1454.5L1287.89 1454.48L1289.52 1454.44L1291.15 1454.39L1292.78 1454.34L1294.41 1454.28L1296.04 1454.2L1297.67 1454.12L1299.3 1454.01L1300.93 1453.89L1302.56 1453.75L1304.2 1453.59L1305.83 1453.4L1307.46 1453.19L1309.09 1452.95L1310.72 1452.68L1312.35 1452.38L1313.98 1452.04L1315.61 1451.67L1317.24 1451.26L1318.87 1450.81L1320.5 1450.32L1322.13 1449.79L1323.77 1449.21L1325.4 1448.58L1327.03 1447.9L1328.66 1447.17L1330.29 1446.38L1331.92 1445.54L1333.55 1444.65L1335.18 1443.69L1336.81 1442.67L1338.44 1441.59L1340.07 1440.44L1341.7 1439.22L1343.34 1437.93L1344.97 1436.57L1346.6 1435.14L1348.23 1433.63L1349.86 1432.04L1351.49 1430.38L1353.12 1428.63L1354.75 1426.79L1356.38 1424.87L1358.01 1422.87L1359.1 1421.48L1359.64 1420.77L1361.27 1418.58L1362.91 1416.31L1364.54 1413.96L1366.17 1411.53L1367.8 1409.03L1369.43 1406.46L1371.06 1403.82L1372.69 1401.13L1374.32 1398.38L1375.95 1395.58L1377.58 1392.73L1379.21 1389.85L1380.84 1386.92L1382.48 1383.96L1384.11 1380.98L1385.74 1377.97L1387.37 1374.94L1389 1371.89L1390.63 1368.83L1392.26 1365.76L1393.89 1362.7L1395.52 1359.63L1397.15 1356.57L1398.78 1353.52L1400.41 1350.49L1402.05 1347.47L1403.68 1344.48L1405.31 1341.52L1406.94 1338.59L1408.57 1335.69L1410.2 1332.84L1411.83 1330.03L1413.46 1327.27L1415.09 1324.57L1416.72 1321.92L1418.35 1319.34L1419.98 1316.82L1421.62 1314.38L1423.25 1312.01L1424.88 1309.72L1426.51 1307.52L1428.14 1305.41L1429.77 1303.39L1431.4 1301.46L1433.03 1299.64L1434.66 1297.92L1436.29 1296.29L1437.92 1294.75L1439.55 1293.29L1441.18 1291.92L1442.82 1290.62L1444.45 1289.4L1446.08 1288.25L1447.71 1287.15L1449.34 1286.12L1450.97 1285.15L1452.6 1284.23L1454.23 1283.35L1455.86 1282.52L1457.49 1281.73L1459.12 1280.97L1460.75 1280.24L1462.39 1279.54L1464.02 1278.87L1465.65 1278.21L1467.28 1277.56L1468.91 1276.93L1470.54 1276.3L1472.17 1275.67L1473.8 1275.04L1475.43 1274.4L1477.06 1273.76L1478.69 1273.09L1480.32 1272.41L1481.96 1271.7L1483.59 1270.97L1485.22 1270.2L1486.85 1269.4L1488.48 1268.55L1490.11 1267.67L1491.74 1266.73L1493.37 1265.74L1495 1264.69L1496.63 1263.58L1498.26 1262.41L1499.89 1261.17L1501.53 1259.85L1503.16 1258.45L1503.7 1257.97L1504.79 1256.97L1506.42 1255.41L1508.05 1253.79L1509.68 1252.1L1511.31 1250.37L1512.94 1248.59L1514.57 1246.79L1516.2 1244.96L1517.83 1243.11L1519.46 1241.25L1521.1 1239.39L1522.73 1237.53L1524.36 1235.68L1525.99 1233.84L1527.62 1232.01L1529.25 1230.2L1530.88 1228.41L1532.51 1226.65L1534.14 1224.91L1535.77 1223.2L1537.4 1221.52L1539.03 1219.86L1540.67 1218.24L1542.3 1216.64L1543.93 1215.08L1545.56 1213.54L1547.19 1212.03L1548.82 1210.55L1550.45 1209.1L1552.08 1207.67L1553.71 1206.27L1555.34 1204.9L1556.97 1203.55L1558.6 1202.23L1560.24 1200.94L1561.87 1199.67L1563.5 1198.43L1565.13 1197.21L1566.76 1196.03L1568.39 1194.88L1570.02 1193.76L1571.65 1192.68L1573.28 1191.65L1574.91 1190.65L1576 1190.02L1576.54 1190.38L1578.17 1191.49L1579.81 1192.64L1581.44 1193.84L1583.07 1195.08L1584.7 1196.36L1586.33 1197.67L1587.96 1199.02L1589.59 1200.4L1591.22 1201.8L1592.85 1203.24L1594.48 1204.71L1596.11 1206.21L1597.74 1207.74L1599.38 1209.29L1601.01 1210.87L1602.64 1212.48L1604.27 1214.12L1605.9 1215.79L1607.53 1217.49L1609.16 1219.21L1610.79 1220.95L1612.42 1222.72L1614.05 1224.52L1615.68 1226.33L1617.31 1228.16L1618.95 1230L1620.58 1231.85L1622.21 1233.71L1623.84 1235.57L1625.47 1237.42L1627.1 1239.26L1628.73 1241.08L1630.36 1242.88L1631.99 1244.64L1633.62 1246.35L1635.25 1248.02L1636.88 1249.61L1638.52 1251.14L1640.15 1252.57L1641.78 1253.91L1643.41 1255.13L1645.04 1256.22L1646.67 1257.17L1648.3 1257.97L1649.93 1258.61L1651.56 1259.13L1653.19 1259.52L1654.82 1259.78L1656.45 1259.93L1658.08 1259.97L1659.72 1259.89L1661.35 1259.72L1662.98 1259.44L1664.61 1259.07L1666.24 1258.6L1667.87 1258.05L1669.5 1257.41L1671.13 1256.7L1672.76 1255.91L1674.39 1255.06L1676.02 1254.13L1677.65 1253.15L1679.29 1252.11L1680.92 1251.01L1682.55 1249.87L1684.18 1248.68L1685.81 1247.46L1687.44 1246.2L1689.07 1244.91L1690.7 1243.59L1692.33 1242.25L1693.96 1240.89L1695.59 1239.51L1697.22 1238.13L1698.86 1236.74L1700.49 1235.35L1702.12 1233.97L1703.75 1232.59L1705.38 1231.23L1707.01 1229.88L1708.64 1228.55L1710.27 1227.25L1711.9 1225.98L1713.53 1224.74L1715.16 1223.54L1716.79 1222.38L1718.43 1221.27L1720.06 1220.21L1720.6 1219.87L1721.69 1219.2L1723.32 1218.25L1724.95 1217.36L1726.58 1216.52L1728.21 1215.74L1729.84 1215L1731.47 1214.32L1733.1 1213.69L1734.73 1213.11L1736.36 1212.58L1738 1212.1L1739.63 1211.67L1741.26 1211.28L1742.89 1210.94L1744.52 1210.64L1746.15 1210.39L1747.78 1210.17L1749.41 1210.01L1751.04 1209.88L1752.67 1209.79L1754.3 1209.75L1755.93 1209.74L1757.57 1209.77L1759.2 1209.83L1760.83 1209.93L1762.46 1210.07L1764.09 1210.24L1765.72 1210.45L1767.35 1210.69L1768.98 1210.95L1770.61 1211.25L1772.24 1211.58L1773.87 1211.94L1775.5 1212.33L1777.14 1212.74L1778.77 1213.18L1780.4 1213.65L1782.03 1214.14L1783.66 1214.65L1785.29 1215.19L1786.92 1215.74L1788.55 1216.32L1790.18 1216.92L1791.81 1217.54L1792.9 1217.96L1793.44 1218.18L1795.07 1218.83L1796.71 1219.5L1798.34 1220.19L1799.97 1220.9L1801.6 1221.62L1803.23 1222.35L1804.86 1223.11L1806.49 1223.87L1808.12 1224.65L1809.75 1225.45L1811.38 1226.26L1813.01 1227.08L1814.64 1227.91L1816.28 1228.76L1817.91 1229.62L1819.54 1230.49L1821.17 1231.37L1822.8 1232.27L1824.43 1233.17L1826.06 1234.08L1827.69 1235.01L1829.32 1235.94L1830.95 1236.88L1832.58 1237.83L1834.21 1238.79L1835.85 1239.75L1837.48 1240.72L1839.11 1241.7L1840.74 1242.69L1842.37 1243.68L1844 1244.68L1845.63 1245.68L1847.26 1246.69L1848.89 1247.7L1850.52 1248.71L1852.15 1249.73L1853.78 1250.75L1855.42 1251.78L1857.05 1252.81L1858.68 1253.84L1860.31 1254.87L1861.94 1255.9L1863.57 1256.93L1865.2 1257.97" fill="none" stroke="#0000ff" stroke-width="10" stroke-linejoin="round" stroke-linecap="butt"/>
<polygon points="1214.5,1439.03 1228,1462.23 1201,1462.23" fill="#0000ff"/>
<polygon points="1286.8,1439.03 1300.3,1462.23 1273.3,1462.23" fill="#0000ff"/>
<polygon points="1359.1,1406.01 1372.6,1429.21 1345.6,1429.21" fill="#0000ff"/>
<polygon points="1431.4,1286 1444.9,1309.2 1417.9,1309.2" fill="#0000ff"/>
<polygon points="1503.7,1242.5 1517.2,1265.7 1490.2,1265.7" fill="#0000ff"/>
<polygon points="1576,1174.56 1589.5,1197.76 1562.5,1197.76" fill="#0000ff"/>
<polygon points="1648.3,1242.5 1661.8,1265.7 1634.8,1265.7" fill="#0000ff"/>
<polygon points="1720.6,1204.4 1734.1,1227.6 1707.1,1227.6" fill="#0000ff"/>
<polygon points="1792.9,1202.5 1806.4,1225.7 1779.4,1225.7" fill="#0000ff"/>
<polygon points="1865.2,1242.5 1878.7,1265.7 1851.7,1265.7" fill="#0000ff"/>
</g>
<line x1="1228.3" y1="859.6" x2="1332.3" y2="859.6" stroke="#000000" stroke-width="9" stroke-linecap="round"/>
<rect x="1270.1" y="849.2" width="20.4" height="20.8" fill="#000000"/>
<text x="0" y="0" font-size="46" font-weight="normal" text-anchor="start" transform="translate(1344.5 874.4) scale(1 1.055)" xml:space="preserve"><tspan>Co</tspan><tspan font-size="27" dy="14.72">3</tspan><tspan dy="-14.72">O</tspan><tspan font-size="27" dy="14.72">4</tspan><tspan dy="-14.72">-c</tspan></text>
<line x1="1228.3" y1="930" x2="1332.3" y2="930" stroke="#ff0000" stroke-width="9" stroke-linecap="round"/>
<circle cx="1280.3" cy="930" r="10.8" fill="#ff0000"/>
<text x="0" y="0" font-size="46" font-weight="normal" text-anchor="start" transform="translate(1344.5 944.8) scale(1 1.055)" xml:space="preserve"><tspan>Co</tspan><tspan font-size="27" dy="14.72">3</tspan><tspan dy="-14.72">O</tspan><tspan font-size="27" dy="14.72">4</tspan><tspan dy="-14.72">-s</tspan></text>
<line x1="1228.3" y1="1000.4" x2="1332.3" y2="1000.4" stroke="#0000ff" stroke-width="9" stroke-linecap="round"/>
<polygon points="1280.3,984.53 1293.8,1008.33 1266.8,1008.33" fill="#0000ff"/>
<text x="0" y="0" font-size="46" font-weight="normal" text-anchor="start" transform="translate(1344.5 1015.2) scale(1 1.055)" xml:space="preserve"><tspan>Co</tspan><tspan font-size="27" dy="14.72">3</tspan><tspan dy="-14.72">O</tspan><tspan font-size="27" dy="14.72">4</tspan><tspan dy="-14.72">-com</tspan></text>
</g>
<text x="1050" y="1597" font-size="46" font-weight="bold" text-anchor="middle" letter-spacing="0.24" xml:space="preserve"><tspan>Temperature (</tspan><tspan font-size="27" dy="-21">o</tspan><tspan dy="21">C)</tspan></text>
</svg>
</body></html>
